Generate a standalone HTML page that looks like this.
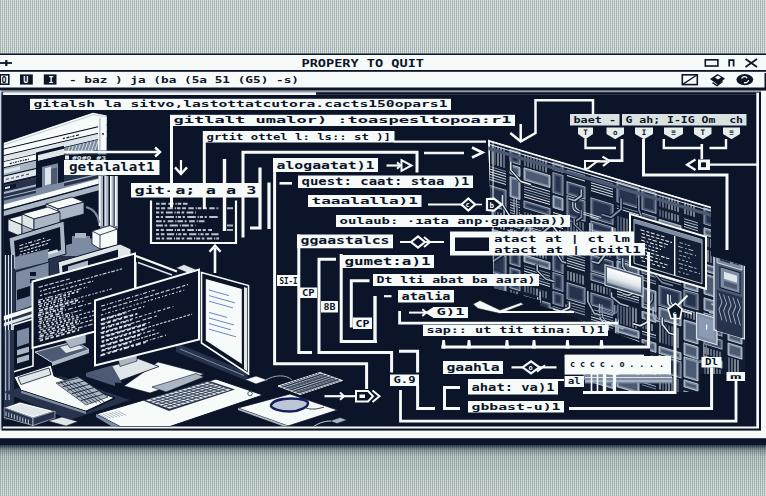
<!DOCTYPE html>
<html lang="en"><head><meta charset="utf-8"><title>PROPERY TO QUIT</title>
<style>
html,body{margin:0;padding:0;}
body{width:766px;height:496px;overflow:hidden;background:#c6d2d3;font-family:"Liberation Mono","DejaVu Sans Mono",monospace;}
.bg{position:absolute;left:0;top:0;width:766px;height:496px;
background:
 repeating-linear-gradient(90deg, rgba(105,128,124,.37) 0 1px, rgba(255,255,255,.25) 1px 2px),
 repeating-linear-gradient(0deg, rgba(120,135,140,.16) 0 1px, rgba(255,255,255,.10) 1px 2px),
 #cbd8d6;}
.shade{position:absolute;left:0;top:445px;width:766px;height:51px;background:linear-gradient(180deg, rgba(11,20,40,.8) 0, rgba(20,34,50,.38) 9%, rgba(40,60,64,.14) 22%, rgba(40,60,64,.05) 60%, rgba(40,60,64,0) 100%);}
svg{position:absolute;left:0;top:0;}
svg text{font-family:"DejaVu Sans Mono","Liberation Mono",monospace;}
</style></head><body>
<div class="bg"></div><div class="shade"></div>
<svg width="766" height="496" viewBox="0 0 766 496">
<rect x="0.00" y="53.50" width="766.00" height="391.50" fill="#0b1428" />
<rect x="0.00" y="55.00" width="766.00" height="15.00" fill="#f6faf9" />
<rect x="0.00" y="71.80" width="766.00" height="15.70" fill="#f6faf9" />
<rect x="764.50" y="73.00" width="1.50" height="15.00" fill="#0b1428" />
<rect x="0.00" y="90.60" width="766.00" height="347.60" fill="#f6faf9" />
<rect x="1.40" y="91.60" width="759.60" height="339.00" fill="#0b1428" />
<rect x="2.40" y="92.60" width="756.60" height="335.90" fill="#f6faf9" />
<rect x="1.40" y="94.80" width="754.90" height="331.70" fill="#0b1428" />
<rect x="1.40" y="92.60" width="1.20" height="335.90" fill="#0b1428" />
<rect x="3.60" y="92.40" width="312.40" height="2.40" fill="#f6faf9" />
<rect x="316.00" y="92.40" width="440.30" height="2.40" fill="#0b1428" />
<rect x="0.00" y="90.60" width="1.30" height="339.40" fill="#c9d6e2" />
<text x="301.5" y="67.2" font-size="10.8" font-weight="bold" fill="#0b1428" textLength="122.5" lengthAdjust="spacingAndGlyphs" font-family="Liberation Sans, sans-serif">PROPERY TO QUIT</text>
<polyline points="0.0,63.0 12.0,63.0" fill="none" stroke="#0b1428" stroke-width="1.8" stroke-linejoin="miter" />
<polyline points="6.3,60.0 6.3,66.0" fill="none" stroke="#0b1428" stroke-width="2.2" stroke-linejoin="miter" />
<rect x="705.3" y="59.8" width="12.6" height="6.2" fill="none" stroke="#0b1428" stroke-width="1.6"/>
<path d="M729.2 66.6v-6.4h4.4v6.4" fill="none" stroke="#0b1428" stroke-width="1.7"/>
<polyline points="745.5,59.0 757.0,67.0" fill="none" stroke="#0b1428" stroke-width="1.8" stroke-linejoin="miter" />
<polyline points="757.0,59.0 745.5,67.0" fill="none" stroke="#0b1428" stroke-width="1.8" stroke-linejoin="miter" />
<rect x="0.2" y="74.8" width="8.6" height="9.4" fill="#f6faf9" stroke="#0b1428" stroke-width="1.6"/>
<text x="1.6" y="82.8" font-size="8.5" font-weight="bold" fill="#0b1428">O</text>
<rect x="20.00" y="74.40" width="12.80" height="10.20" fill="#0b1428" />
<text x="23.2" y="82.8" font-size="8.5" font-weight="bold" fill="#f6faf9" font-family="Liberation Sans, sans-serif">U</text>
<rect x="43.80" y="74.40" width="12.70" height="10.20" fill="#0b1428" />
<text x="48.6" y="82.8" font-size="8.5" font-weight="bold" fill="#f6faf9" font-family="Liberation Sans, sans-serif">I</text>
<text x="69" y="82.6" font-size="8.6" font-weight="bold" fill="#0b1428" textLength="230" lengthAdjust="spacingAndGlyphs" xml:space="preserve">- baz ) ja (ba (5a 51 (G5) -s)</text>
<rect x="682.3" y="74.8" width="15" height="9.8" fill="#f6faf9" stroke="#0b1428" stroke-width="1.6"/>
<polyline points="682.3,84.6 697.3,74.8" fill="none" stroke="#0b1428" stroke-width="1.3" stroke-linejoin="miter" />
<polygon points="710.0,79.0 717.5,74.0 725.0,78.5 718.0,84.8" fill="#0b1428" />
<polygon points="715.0,77.4 718.0,75.6 721.0,77.6 718.0,79.4" fill="#f6faf9" />
<polyline points="712.5,82.6 717.0,85.6 722.5,81.5" fill="none" stroke="#0b1428" stroke-width="1.3" stroke-linejoin="miter" />
<ellipse cx="744.8" cy="79.6" rx="8.4" ry="5.6" fill="#0b1428"/>
<path d="M741.5 78.5c1.5-2.4 4.6-2.4 5.6-.4M744 82.6c2.2.6 4.4-.6 4.6-2.6" stroke="#f6faf9" stroke-width="1.3" fill="none"/>
<defs>
<clipPath id="cContent"><rect x="3.6" y="94.8" width="752.4" height="331.7"/></clipPath>
<clipPath id="cBoard"><polygon points="488,139.5 711,206.5 711,256 745,266 745,374 700,374 700,392 583,392 583,372 650,372 650,346 540,305 540,300 494,288"/></clipPath>
<clipPath id="cCab"><polygon points="3.6,143 93,113 106.5,115.6 106.5,176 118,176 118,262 134,257 134,300 3.6,345"/></clipPath>
</defs>
<g clip-path="url(#cContent)">
<g clip-path="url(#cCab)">
<rect x="0.0" y="100.0" width="140.0" height="156.0" fill="#7d8ca3" />
<rect x="0.0" y="256.0" width="140.0" height="94.0" fill="#27334d" />
</g>
<polygon points="3.6,143.0 93.0,112.8 106.5,115.5 106.5,124.5 3.6,148.8" fill="#f6faf9" />
<polyline points="3.6,145.2 94.0,114.6 106.5,117.2" fill="none" stroke="#aab6c4" stroke-width="0.7" />
<g clip-path="url(#cCab)"><g transform="matrix(1,-0.235,0,1,0,0.846)">
<rect x="0.0" y="148.5" width="140.0" height="1.2" fill="#0b1428" />
<rect x="0.0" y="149.7" width="140.0" height="5.5" fill="#f6faf9" />
<line x1="62.9" y1="152.6" x2="80.1" y2="152.6" stroke="#0b1428" stroke-width="1.2" stroke-dasharray="2 1.5 3 1 1 1"/>
<rect x="0.0" y="155.2" width="140.0" height="1.0" fill="#0b1428" />
<rect x="0.0" y="156.2" width="140.0" height="5.2" fill="#dfe6ea" />
<rect x="0.0" y="161.4" width="140.0" height="0.8" fill="#0b1428" />
<rect x="0.0" y="162.2" width="36.0" height="5.2" fill="#f6faf9" />
<line x1="9.8" y1="165.0" x2="29.5" y2="165.0" stroke="#0b1428" stroke-width="1.3" stroke-dasharray="2 1 1 1"/>
<rect x="0.0" y="167.4" width="36.0" height="1.0" fill="#0b1428" />
<rect x="0.0" y="168.4" width="36.0" height="7.1" fill="#aab6c4" />
<rect x="4.0" y="170.0" width="16.0" height="3.5" fill="#dfe6ea" />
<rect x="0.0" y="175.5" width="36.0" height="1.3" fill="#0b1428" />
<rect x="0.0" y="176.8" width="36.0" height="6.2" fill="#dfe6ea" />
<line x1="6.0" y1="180.0" x2="29.0" y2="180.0" stroke="#4c5a74" stroke-width="1.2" stroke-dasharray="3 2"/>
<rect x="0.0" y="183.0" width="36.0" height="2.0" fill="#0b1428" />
<rect x="0.0" y="185.0" width="36.0" height="7.0" fill="#27334d" />
<rect x="3.0" y="186.5" width="13.0" height="4.0" fill="#0b1428" />
<rect x="5.0" y="187.5" width="5.0" height="2.0" fill="#dfe6ea" />
<rect x="0.0" y="192.0" width="36.0" height="2.0" fill="#aab6c4" />
<rect x="0.0" y="194.0" width="36.0" height="6.5" fill="#27334d" />
<rect x="0.0" y="197.0" width="36.0" height="1.0" fill="#aab6c4" />
<rect x="36.0" y="160.0" width="28.0" height="36.0" fill="#0b1428" />
<rect x="38.0" y="163.0" width="26.0" height="6.0" fill="#dfe6ea" />
<rect x="38.0" y="169.0" width="26.0" height="1.0" fill="#0b1428" />
<rect x="42.0" y="176.0" width="16.0" height="21.0" fill="#7d8ca3" />
<rect x="45.0" y="178.0" width="6.0" height="17.0" fill="#dfe6ea" />
<rect x="51.0" y="180.0" width="6.0" height="16.0" fill="#4c5a74" />
<rect x="64.0" y="162.2" width="34.0" height="9.8" fill="#7d8ca3" />
<polyline points="66.0,172.0 69.6,162.2" fill="none" stroke="#dfe6ea" stroke-width="0.9" />
<polyline points="69.6,172.0 73.2,162.2" fill="none" stroke="#dfe6ea" stroke-width="0.9" />
<polyline points="73.2,172.0 76.8,162.2" fill="none" stroke="#dfe6ea" stroke-width="0.9" />
<polyline points="76.8,172.0 80.4,162.2" fill="none" stroke="#dfe6ea" stroke-width="0.9" />
<polyline points="80.4,172.0 84.0,162.2" fill="none" stroke="#dfe6ea" stroke-width="0.9" />
<polyline points="84.0,172.0 87.6,162.2" fill="none" stroke="#dfe6ea" stroke-width="0.9" />
<polyline points="87.6,172.0 91.2,162.2" fill="none" stroke="#dfe6ea" stroke-width="0.9" />
<polyline points="91.2,172.0 94.8,162.2" fill="none" stroke="#dfe6ea" stroke-width="0.9" />
<polyline points="94.8,172.0 98.4,162.2" fill="none" stroke="#dfe6ea" stroke-width="0.9" />
<rect x="64.0" y="172.0" width="34.0" height="28.5" fill="#27334d" />
<rect x="64.0" y="196.0" width="76.0" height="1.2" fill="#aab6c4" />
</g></g>
<g clip-path="url(#cCab)"><g transform="matrix(1,-0.27,0,1,0,0.972)">
<rect x="0.0" y="204.5" width="140.0" height="5.0" fill="#f6faf9" />
<rect x="0.0" y="209.5" width="140.0" height="1.5" fill="#0b1428" />
<rect x="0.0" y="211.0" width="140.0" height="5.0" fill="#aab6c4" />
<rect x="0.0" y="216.0" width="100.0" height="46.0" fill="#0b1428" />
</g></g>
<rect x="98.0" y="117.0" width="8.5" height="33.0" fill="#f6faf9" />
<rect x="99.3" y="118.0" width="1.2" height="32.0" fill="#aab6c4" />
<circle cx="103" cy="134" r="0.9" fill="#0b1428"/>
<rect x="98.5" y="176.0" width="19.5" height="50.0" fill="#aab6c4" />
<rect x="99.0" y="176.0" width="1.6" height="50.0" fill="#f6faf9" />
<rect x="103.0" y="176.0" width="1.6" height="50.0" fill="#0b1428" />
<rect x="104.5" y="176.0" width="1.6" height="50.0" fill="#dfe6ea" />
<rect x="108.5" y="176.0" width="1.6" height="50.0" fill="#0b1428" />
<rect x="110.0" y="176.0" width="1.6" height="50.0" fill="#f6faf9" />
<rect x="113.5" y="176.0" width="1.6" height="50.0" fill="#4c5a74" />
<rect x="115.0" y="176.0" width="1.6" height="50.0" fill="#f6faf9" />
<polygon points="46.0,204.0 72.0,197.0 84.0,202.0 58.0,209.0" fill="#f6faf9" stroke="#0b1428" stroke-width="0.8" />
<polygon points="46.0,204.0 58.0,209.0 58.0,221.0 46.0,216.0" fill="#dfe6ea" stroke="#0b1428" stroke-width="0.8" />
<polygon points="58.0,209.0 84.0,202.0 84.0,214.0 58.0,221.0" fill="#aab6c4" stroke="#0b1428" stroke-width="0.8" />
<polygon points="8.0,219.0 38.0,210.9 52.0,216.8 22.0,224.9" fill="#f6faf9" stroke="#0b1428" stroke-width="0.8" />
<polygon points="8.0,219.0 22.0,224.9 22.0,236.9 8.0,231.0" fill="#dfe6ea" stroke="#0b1428" stroke-width="0.8" />
<polygon points="22.0,224.9 52.0,216.8 52.0,228.8 22.0,236.9" fill="#aab6c4" stroke="#0b1428" stroke-width="0.8" />
<polygon points="22.0,214.0 48.0,207.0 60.0,212.0 34.0,219.0" fill="#f6faf9" stroke="#0b1428" stroke-width="0.8" />
<polygon points="22.0,214.0 34.0,219.0 34.0,230.0 22.0,225.0" fill="#dfe6ea" stroke="#0b1428" stroke-width="0.8" />
<polygon points="34.0,219.0 60.0,212.0 60.0,223.0 34.0,230.0" fill="#aab6c4" stroke="#0b1428" stroke-width="0.8" />
<path d="M86 207c8 2 12 8 13 16" stroke="#7d8ca3" stroke-width="2" fill="none"/>
<polygon points="92.0,231.0 110.0,225.5 117.5,229.0 117.5,246.0 100.0,249.0 92.0,244.0" fill="#f6faf9" stroke="#0b1428" stroke-width="0.8" />
<polyline points="100.0,235.0 100.0,249.0" fill="none" stroke="#0b1428" stroke-width="0.8" />
<polyline points="92.0,231.0 100.0,235.0 117.5,229.0" fill="none" stroke="#0b1428" stroke-width="0.8" />
<rect x="72.0" y="236.0" width="18.0" height="14.0" fill="#7d8ca3" />
<rect x="75.0" y="233.0" width="11.0" height="5.0" fill="#aab6c4" />
<polygon points="9.0,238.0 64.0,221.0 66.0,254.0 12.0,270.0" fill="#aab6c4" stroke="#0b1428" stroke-width="1" />
<polygon points="14.0,241.0 60.0,227.0 61.0,250.0 16.0,264.0" fill="#0b1428" />
<g transform="matrix(1,-0.3,0,1,0,4.5)">
<line x1="19.4" y1="247.0" x2="45.5" y2="247.0" stroke="#dfe6ea" stroke-width="1.1" stroke-dasharray="3.9 2.2 1.3 1.3"/>
<line x1="19.2" y1="250.2" x2="52.0" y2="250.2" stroke="#dfe6ea" stroke-width="1.1" stroke-dasharray="4.1 1.1 3.9 2.0"/>
<line x1="20.3" y1="253.4" x2="48.8" y2="253.4" stroke="#dfe6ea" stroke-width="1.1" stroke-dasharray="2.5 1.0 2.6 1.1"/>
<line x1="19.4" y1="256.6" x2="39.6" y2="256.6" stroke="#dfe6ea" stroke-width="1.1" stroke-dasharray="2.1 1.7 2.3 1.8"/>
<line x1="20.0" y1="259.8" x2="49.1" y2="259.8" stroke="#dfe6ea" stroke-width="1.1" stroke-dasharray="3.5 2.0 2.4 1.3"/>
<line x1="21.0" y1="263.0" x2="56.0" y2="263.0" stroke="#dfe6ea" stroke-width="1.1" stroke-dasharray="4.5 2.1 1.9 1.2"/>
</g>
<rect x="48.0" y="250.5" width="10.0" height="3.0" fill="#dfe6ea" transform="rotate(-16 53 252)"/>
<polygon points="58.0,262.0 120.0,244.0 131.0,249.0 131.0,262.0 60.0,283.0" fill="#dfe6ea" stroke="#0b1428" stroke-width="1" />
<polygon points="62.0,266.0 118.0,249.5 118.0,262.0 63.0,279.0" fill="#0b1428" />
<polygon points="68.0,266.5 88.0,260.5 88.0,269.0 68.0,275.0" fill="#aab6c4" />
<polygon points="15.0,257.0 48.0,249.0 48.0,262.0 15.0,270.0" fill="#7d8ca3" />
<polygon points="15.5,272.0 49.0,262.0 49.0,300.0 15.5,312.0" fill="#7d8ca3" stroke="#0b1428" stroke-width="0.8" />
<rect x="30.0" y="272.0" width="6.0" height="4.0" fill="#0b1428" />
<rect x="30.0" y="279.0" width="6.0" height="4.0" fill="#0b1428" />
<polygon points="17.0,290.0 30.0,286.0 30.0,296.0 17.0,300.0" fill="#0b1428" />
<rect x="3.6" y="255.0" width="10.4" height="90.0" fill="#27334d" />
<rect x="5.0" y="255.0" width="1.0" height="90.0" fill="#dfe6ea" />
<rect x="8.0" y="255.0" width="1.0" height="90.0" fill="#dfe6ea" />
<rect x="11.0" y="255.0" width="1.0" height="90.0" fill="#dfe6ea" />
<polygon points="3.6,316.0 32.0,307.0 32.0,311.0 3.6,320.5" fill="#f6faf9" />
<polygon points="3.6,323.0 32.0,314.0 32.0,317.0 3.6,326.5" fill="#dfe6ea" />
<polygon points="13.0,325.0 33.0,319.0 33.0,366.0 13.0,372.0" fill="#0b1428" stroke="#f6faf9" stroke-width="1.6" />
<polygon points="17.0,331.0 29.0,327.5 29.0,343.0 17.0,347.0" fill="#7d8ca3" />
<polygon points="17.0,350.0 29.0,346.5 29.0,352.0 17.0,355.5" fill="#aab6c4" />
<polygon points="17.0,358.0 29.0,354.5 29.0,360.0 17.0,363.5" fill="#aab6c4" />
<rect x="3.6" y="330.0" width="10.4" height="90.0" fill="#27334d" />
<rect x="5.0" y="330.0" width="1.2" height="70.0" fill="#aab6c4" />
<rect x="8.5" y="330.0" width="1.2" height="70.0" fill="#aab6c4" />
<polyline points="136.0,256.0 177.0,271.5" fill="none" stroke="#f6faf9" stroke-width="2.4" />
<polyline points="138.0,262.5 172.0,275.0" fill="none" stroke="#dfe6ea" stroke-width="1.6" />
<polyline points="136.0,262.0 136.0,300.0" fill="none" stroke="#dfe6ea" stroke-width="1.2" />
<polygon points="176.0,268.0 184.0,264.5 196.0,269.5 188.0,273.0" fill="#dfe6ea" stroke="#0b1428" stroke-width="0.6" />
<polygon points="176.0,343.0 247.5,372.0 247.5,381.0 176.0,352.0" fill="#27334d" />
<polyline points="180.0,349.0 244.0,375.5" fill="none" stroke="#7d8ca3" stroke-width="1" />
<polygon points="201.5,272.5 248.5,285.5 248.5,374.0 201.5,343.0" fill="#0b1428" stroke="#f6faf9" stroke-width="1.6" />
<polygon points="205.8,279.0 241.8,289.0 241.8,364.0 205.8,340.5" fill="#f6faf9" />
<polygon points="244.0,287.0 247.0,288.0 247.0,371.0 244.0,369.0" fill="#dfe6ea" />
<polyline points="209.0,290.0 229.0,295.6" fill="none" stroke="#6c86c4" stroke-width="1" />
<polyline points="209.0,295.6 235.0,302.9" fill="none" stroke="#6c86c4" stroke-width="1" />
<polyline points="209.0,301.2 233.0,307.9" fill="none" stroke="#6c86c4" stroke-width="1" />
<polyline points="209.0,312.4 227.0,317.4" fill="none" stroke="#6c86c4" stroke-width="1" />
<polyline points="209.0,318.0 234.0,325.0" fill="none" stroke="#6c86c4" stroke-width="1" />
<polyline points="209.0,323.6 231.0,329.8" fill="none" stroke="#6c86c4" stroke-width="1" />
<polyline points="209.0,329.2 236.0,336.8" fill="none" stroke="#6c86c4" stroke-width="1" />
<polygon points="35.0,352.0 76.0,341.0 89.0,349.5 52.0,362.5" fill="#4c5a74" stroke="#dfe6ea" stroke-width="0.9" />
<polygon points="52.0,362.5 89.0,349.5 89.0,353.0 52.0,366.0" fill="#aab6c4" />
<polygon points="60.0,347.0 76.0,343.0 84.0,348.0 66.0,353.0" fill="#dfe6ea" />
<polygon points="62.0,336.0 86.0,329.0 86.0,343.0 70.0,348.0" fill="#aab6c4" stroke="#0b1428" stroke-width="0.6" />
<polygon points="32.5,281.5 135.0,253.5 135.0,321.0 32.5,348.0" fill="#0b1428" stroke="#f6faf9" stroke-width="2" />
<g transform="matrix(1,-0.273,0,1,0,8.87)">
<line x1="38.6" y1="289.0" x2="70.7" y2="289.0" stroke="#c3ccd6" stroke-width="1.2" stroke-dasharray="4.3 1.6 3.5 1.4"/>
<line x1="39.9" y1="293.3" x2="122.1" y2="293.3" stroke="#c3ccd6" stroke-width="1.2" stroke-dasharray="2.0 1.3 3.7 1.5"/>
<line x1="40.0" y1="297.6" x2="93.2" y2="297.6" stroke="#c3ccd6" stroke-width="1.2" stroke-dasharray="2.2 1.9 3.3 1.3"/>
<line x1="38.2" y1="301.9" x2="87.2" y2="301.9" stroke="#c3ccd6" stroke-width="1.2" stroke-dasharray="4.9 2.1 1.4 1.2"/>
<line x1="38.2" y1="306.2" x2="69.7" y2="306.2" stroke="#c3ccd6" stroke-width="1.2" stroke-dasharray="4.4 1.3 2.7 1.4"/>
<line x1="38.4" y1="310.5" x2="113.1" y2="310.5" stroke="#c3ccd6" stroke-width="1.2" stroke-dasharray="2.4 2.0 1.3 1.4"/>
<line x1="38.4" y1="314.8" x2="83.4" y2="314.8" stroke="#c3ccd6" stroke-width="1.2" stroke-dasharray="4.9 2.2 1.9 1.9"/>
<line x1="38.4" y1="319.1" x2="91.4" y2="319.1" stroke="#c3ccd6" stroke-width="1.2" stroke-dasharray="4.6 2.0 1.3 2.0"/>
<line x1="38.4" y1="323.4" x2="82.7" y2="323.4" stroke="#c3ccd6" stroke-width="1.2" stroke-dasharray="4.3 1.5 1.9 1.1"/>
<line x1="38.2" y1="327.7" x2="103.3" y2="327.7" stroke="#c3ccd6" stroke-width="1.2" stroke-dasharray="2.7 1.9 2.1 1.5"/>
<line x1="39.9" y1="332.0" x2="98.7" y2="332.0" stroke="#c3ccd6" stroke-width="1.2" stroke-dasharray="3.7 2.3 1.5 1.2"/>
<line x1="39.8" y1="336.3" x2="120.1" y2="336.3" stroke="#c3ccd6" stroke-width="1.2" stroke-dasharray="2.7 1.3 3.2 1.9"/>
<line x1="38.4" y1="340.6" x2="127.2" y2="340.6" stroke="#c3ccd6" stroke-width="1.2" stroke-dasharray="4.6 1.9 2.3 1.1"/>
<line x1="38.1" y1="304.0" x2="79.3" y2="304.0" stroke="#d8dfe6" stroke-width="1.8" stroke-dasharray="2.7 2.1 1.8 1.8"/>
<line x1="39.2" y1="308.3" x2="66.4" y2="308.3" stroke="#d8dfe6" stroke-width="1.8" stroke-dasharray="2.5 2.1 1.2 1.2"/>
<line x1="39.1" y1="312.6" x2="78.0" y2="312.6" stroke="#d8dfe6" stroke-width="1.8" stroke-dasharray="3.8 1.4 3.8 1.2"/>
<line x1="38.0" y1="316.9" x2="64.7" y2="316.9" stroke="#d8dfe6" stroke-width="1.8" stroke-dasharray="3.3 1.1 1.5 1.4"/>
<line x1="39.1" y1="321.2" x2="62.9" y2="321.2" stroke="#d8dfe6" stroke-width="1.8" stroke-dasharray="3.1 2.3 3.9 1.7"/>
<line x1="39.4" y1="325.5" x2="72.7" y2="325.5" stroke="#d8dfe6" stroke-width="1.8" stroke-dasharray="2.4 1.1 1.1 1.9"/>
<line x1="39.4" y1="329.8" x2="80.0" y2="329.8" stroke="#d8dfe6" stroke-width="1.8" stroke-dasharray="2.1 2.0 2.4 1.7"/>
<line x1="38.6" y1="334.1" x2="80.0" y2="334.1" stroke="#d8dfe6" stroke-width="1.8" stroke-dasharray="2.2 1.8 3.2 1.9"/>
<line x1="39.5" y1="338.4" x2="75.3" y2="338.4" stroke="#d8dfe6" stroke-width="1.8" stroke-dasharray="4.4 2.4 2.1 1.7"/>
<line x1="39.8" y1="342.7" x2="79.1" y2="342.7" stroke="#d8dfe6" stroke-width="1.8" stroke-dasharray="3.3 2.2 3.6 1.6"/>
</g>
<polygon points="124.0,386.0 158.0,362.0 204.0,374.0 150.0,393.0" fill="#f6faf9" stroke="#0b1428" stroke-width="0.6" />
<polygon points="86.0,373.0 138.0,358.5 159.0,366.5 115.0,382.5" fill="#dfe6ea" stroke="#0b1428" stroke-width="0.8" />
<polygon points="86.0,373.0 112.0,365.6 122.0,383.0 115.0,382.5" fill="#4c5a74" />
<polygon points="86.0,373.0 115.0,382.5 115.0,386.0 86.0,376.5" fill="#4c5a74" />
<polygon points="116.0,352.0 137.0,346.0 137.0,361.0 120.0,366.5" fill="#aab6c4" stroke="#0b1428" stroke-width="0.6" />
<polygon points="95.0,300.5 199.0,269.5 199.0,339.5 95.0,365.5" fill="#0b1428" stroke="#f6faf9" stroke-width="2" />
<g transform="matrix(1,-0.3,0,1,0,28.5)">
<line x1="101.2" y1="308.0" x2="154.6" y2="308.0" stroke="#c3ccd6" stroke-width="1.2" stroke-dasharray="3.7 1.9 1.2 1.6"/>
<line x1="102.0" y1="312.4" x2="188.1" y2="312.4" stroke="#c3ccd6" stroke-width="1.2" stroke-dasharray="4.2 1.6 3.2 1.6"/>
<line x1="100.9" y1="316.8" x2="184.2" y2="316.8" stroke="#c3ccd6" stroke-width="1.2" stroke-dasharray="2.3 2.1 1.1 1.6"/>
<line x1="101.0" y1="321.2" x2="144.3" y2="321.2" stroke="#c3ccd6" stroke-width="1.2" stroke-dasharray="4.1 1.7 2.8 1.9"/>
<line x1="100.5" y1="325.6" x2="129.5" y2="325.6" stroke="#c3ccd6" stroke-width="1.2" stroke-dasharray="2.9 2.0 1.6 1.2"/>
<line x1="101.8" y1="330.0" x2="173.4" y2="330.0" stroke="#c3ccd6" stroke-width="1.2" stroke-dasharray="3.3 2.3 2.0 1.7"/>
<line x1="100.4" y1="334.4" x2="156.9" y2="334.4" stroke="#c3ccd6" stroke-width="1.2" stroke-dasharray="4.4 2.4 3.6 1.4"/>
<line x1="101.2" y1="338.8" x2="150.2" y2="338.8" stroke="#c3ccd6" stroke-width="1.2" stroke-dasharray="2.4 1.7 3.5 1.8"/>
<line x1="101.4" y1="343.2" x2="192.1" y2="343.2" stroke="#c3ccd6" stroke-width="1.2" stroke-dasharray="2.8 1.3 2.4 1.3"/>
<line x1="100.4" y1="347.6" x2="155.9" y2="347.6" stroke="#c3ccd6" stroke-width="1.2" stroke-dasharray="3.9 1.7 1.9 1.8"/>
<line x1="102.0" y1="352.0" x2="159.9" y2="352.0" stroke="#c3ccd6" stroke-width="1.2" stroke-dasharray="2.2 1.0 3.6 1.0"/>
<line x1="101.4" y1="356.4" x2="167.2" y2="356.4" stroke="#c3ccd6" stroke-width="1.2" stroke-dasharray="2.9 2.2 1.1 1.1"/>
<line x1="100.9" y1="322.0" x2="126.5" y2="322.0" stroke="#d8dfe6" stroke-width="1.9" stroke-dasharray="4.5 1.4 1.4 1.0"/>
<line x1="101.3" y1="326.4" x2="137.4" y2="326.4" stroke="#d8dfe6" stroke-width="1.9" stroke-dasharray="3.9 2.0 3.4 2.0"/>
<line x1="101.4" y1="330.8" x2="131.4" y2="330.8" stroke="#d8dfe6" stroke-width="1.9" stroke-dasharray="3.4 1.3 1.0 1.5"/>
<line x1="101.4" y1="335.2" x2="130.9" y2="335.2" stroke="#d8dfe6" stroke-width="1.9" stroke-dasharray="2.8 1.5 3.1 1.5"/>
<line x1="101.2" y1="339.6" x2="145.1" y2="339.6" stroke="#d8dfe6" stroke-width="1.9" stroke-dasharray="3.2 2.2 3.7 1.1"/>
<line x1="101.9" y1="344.0" x2="144.9" y2="344.0" stroke="#d8dfe6" stroke-width="1.9" stroke-dasharray="2.4 1.7 2.9 1.9"/>
<line x1="100.8" y1="348.4" x2="140.0" y2="348.4" stroke="#d8dfe6" stroke-width="1.9" stroke-dasharray="4.6 2.2 3.8 1.5"/>
<line x1="101.3" y1="352.8" x2="131.4" y2="352.8" stroke="#d8dfe6" stroke-width="1.9" stroke-dasharray="4.2 2.2 2.9 1.7"/>
<line x1="100.4" y1="357.2" x2="147.9" y2="357.2" stroke="#d8dfe6" stroke-width="1.9" stroke-dasharray="4.9 2.5 2.6 1.8"/>
</g>
<polygon points="3.6,392.0 60.0,376.0 130.0,400.0 70.0,420.0" fill="#27334d" />
<polygon points="14.0,377.0 51.0,365.0 54.0,376.0 115.0,398.0 86.0,411.5 21.0,390.5" fill="#f6faf9" stroke="#0b1428" stroke-width="1" />
<polygon points="18.0,377.5 49.0,368.0 51.0,374.5 21.0,384.5" fill="#dfe6ea" stroke="#0b1428" stroke-width="0.8" />
<polygon points="56.0,383.0 78.0,376.5 108.0,397.0 86.0,405.0" fill="#aab6c4" stroke="#0b1428" stroke-width="0.6" />
<polyline points="58.0,383.5 80.0,377.5" fill="none" stroke="#0b1428" stroke-width="0.8" />
<polyline points="62.6,386.9 84.6,380.9" fill="none" stroke="#0b1428" stroke-width="0.8" />
<polyline points="67.2,390.3 89.2,384.3" fill="none" stroke="#0b1428" stroke-width="0.8" />
<polyline points="71.8,393.7 93.8,387.7" fill="none" stroke="#0b1428" stroke-width="0.8" />
<polyline points="76.4,397.1 98.4,391.1" fill="none" stroke="#0b1428" stroke-width="0.8" />
<polyline points="81.0,400.5 103.0,394.5" fill="none" stroke="#0b1428" stroke-width="0.8" />
<polyline points="60.0,382.0 88.0,403.0" fill="none" stroke="#0b1428" stroke-width="0.7" />
<polyline points="64.4,382.0 92.4,403.0" fill="none" stroke="#0b1428" stroke-width="0.7" />
<polyline points="68.8,382.0 96.8,403.0" fill="none" stroke="#0b1428" stroke-width="0.7" />
<polyline points="73.2,382.0 101.2,403.0" fill="none" stroke="#0b1428" stroke-width="0.7" />
<polyline points="77.6,382.0 105.6,403.0" fill="none" stroke="#0b1428" stroke-width="0.7" />
<polyline points="21.0,390.5 86.0,411.5 115.0,398.0" fill="none" stroke="#0b1428" stroke-width="1.6" />
<polygon points="21.0,390.5 86.0,411.5 86.0,414.0 21.0,393.0" fill="#7d8ca3" />
<polygon points="4.0,407.5 20.0,402.0 55.0,411.0 33.0,418.0" fill="#f6faf9" stroke="#0b1428" stroke-width="0.8" />
<polygon points="7.0,408.0 20.0,404.0 50.0,411.4 33.0,416.0" fill="#dfe6ea" />
<polygon points="4.0,407.5 33.0,418.0 33.0,425.5 4.0,417.5" fill="#27334d" stroke="#dfe6ea" stroke-width="0.6" />
<polygon points="33.0,418.0 55.0,411.0 55.0,418.0 33.0,425.5" fill="#27334d" stroke="#dfe6ea" stroke-width="0.6" />
<polyline points="6.0,411.5 6.0,416.0" fill="none" stroke="#dfe6ea" stroke-width="0.8" />
<polyline points="8.8,412.5 8.8,417.0" fill="none" stroke="#dfe6ea" stroke-width="0.8" />
<polyline points="11.6,413.5 11.6,418.0" fill="none" stroke="#dfe6ea" stroke-width="0.8" />
<polyline points="14.4,414.5 14.4,419.0" fill="none" stroke="#dfe6ea" stroke-width="0.8" />
<polyline points="17.2,415.5 17.2,420.0" fill="none" stroke="#dfe6ea" stroke-width="0.8" />
<polyline points="20.0,416.5 20.0,421.0" fill="none" stroke="#dfe6ea" stroke-width="0.8" />
<polyline points="22.8,417.5 22.8,422.0" fill="none" stroke="#dfe6ea" stroke-width="0.8" />
<polyline points="25.6,418.5 25.6,423.0" fill="none" stroke="#dfe6ea" stroke-width="0.8" />
<polyline points="28.4,419.5 28.4,424.0" fill="none" stroke="#dfe6ea" stroke-width="0.8" />
<polygon points="48.0,421.0 62.0,417.0 78.0,421.5 66.0,426.0" fill="#dfe6ea" stroke="#0b1428" stroke-width="0.6" />
<polygon points="96.0,414.0 216.0,379.0 263.0,395.0 170.0,426.5 120.0,426.5" fill="#f6faf9" stroke="#0b1428" stroke-width="1" />
<polygon points="96.0,414.0 120.0,426.5 112.0,426.5 96.0,417.0" fill="#7d8ca3" />
<polyline points="100.0,414.5 108.0,419.0" fill="none" stroke="#7d8ca3" stroke-width="0.6" />
<polyline points="103.0,413.9 111.0,418.4" fill="none" stroke="#7d8ca3" stroke-width="0.6" />
<polyline points="106.0,413.3 114.0,417.8" fill="none" stroke="#7d8ca3" stroke-width="0.6" />
<polyline points="109.0,412.7 117.0,417.2" fill="none" stroke="#7d8ca3" stroke-width="0.6" />
<polyline points="112.0,412.1 120.0,416.6" fill="none" stroke="#7d8ca3" stroke-width="0.6" />
<polyline points="115.0,411.5 123.0,416.0" fill="none" stroke="#7d8ca3" stroke-width="0.6" />
<polyline points="118.0,410.9 126.0,415.4" fill="none" stroke="#7d8ca3" stroke-width="0.6" />
<polygon points="152.0,387.0 196.0,373.5 204.0,377.0 166.0,392.0" fill="#aab6c4" stroke="#0b1428" stroke-width="0.6" />
<polygon points="143.0,400.5 208.0,380.5 235.0,389.5 169.0,411.0" fill="#27334d" />
<polygon points="146.0,400.3 207.5,382.0 231.0,389.7 169.5,408.7" fill="#dfe6ea" />
<polyline points="149.9,401.7 211.4,383.3" fill="none" stroke="#27334d" stroke-width="0.9" />
<polyline points="153.8,403.1 215.3,384.6" fill="none" stroke="#27334d" stroke-width="0.9" />
<polyline points="157.8,404.5 219.2,385.9" fill="none" stroke="#27334d" stroke-width="0.9" />
<polyline points="161.7,405.9 223.2,387.1" fill="none" stroke="#27334d" stroke-width="0.9" />
<polyline points="165.6,407.3 227.1,388.4" fill="none" stroke="#27334d" stroke-width="0.9" />
<polyline points="150.4,399.0 173.9,407.3" fill="none" stroke="#27334d" stroke-width="0.8" />
<polyline points="154.8,397.7 178.3,406.0" fill="none" stroke="#27334d" stroke-width="0.8" />
<polyline points="159.2,396.4 182.7,404.6" fill="none" stroke="#27334d" stroke-width="0.8" />
<polyline points="163.6,395.1 187.1,403.3" fill="none" stroke="#27334d" stroke-width="0.8" />
<polyline points="168.0,393.8 191.5,401.9" fill="none" stroke="#27334d" stroke-width="0.8" />
<polyline points="172.4,392.5 195.9,400.6" fill="none" stroke="#27334d" stroke-width="0.8" />
<polyline points="176.8,391.2 200.2,399.2" fill="none" stroke="#27334d" stroke-width="0.8" />
<polyline points="181.1,389.8 204.6,397.8" fill="none" stroke="#27334d" stroke-width="0.8" />
<polyline points="185.5,388.5 209.0,396.5" fill="none" stroke="#27334d" stroke-width="0.8" />
<polyline points="189.9,387.2 213.4,395.1" fill="none" stroke="#27334d" stroke-width="0.8" />
<polyline points="194.3,385.9 217.8,393.8" fill="none" stroke="#27334d" stroke-width="0.8" />
<polyline points="198.7,384.6 222.2,392.4" fill="none" stroke="#27334d" stroke-width="0.8" />
<polyline points="203.1,383.3 226.6,391.1" fill="none" stroke="#27334d" stroke-width="0.8" />
<circle cx="250" cy="393.6" r="2.2" fill="none" stroke="#0b1428" stroke-width="0.7"/>
<polygon points="245.0,379.5 256.0,376.0 267.5,380.0 256.0,384.0" fill="#f6faf9" stroke="#0b1428" stroke-width="0.6" />
<path d="M266 380c8-5 20-6 26 0" stroke="#aab6c4" stroke-width="0.9" fill="none"/>
<polygon points="278.0,386.0 320.0,372.5 342.5,380.5 300.0,394.5" fill="#aab6c4" stroke="#f6faf9" stroke-width="0.9" />
<polyline points="281.7,387.4 323.8,373.8" fill="none" stroke="#0b1428" stroke-width="0.7" />
<polyline points="285.3,388.8 327.5,375.2" fill="none" stroke="#0b1428" stroke-width="0.7" />
<polyline points="289.0,390.2 331.2,376.5" fill="none" stroke="#0b1428" stroke-width="0.7" />
<polyline points="292.7,391.7 335.0,377.8" fill="none" stroke="#0b1428" stroke-width="0.7" />
<polyline points="296.3,393.1 338.8,379.2" fill="none" stroke="#0b1428" stroke-width="0.7" />
<polyline points="281.0,385.0 303.0,393.5" fill="none" stroke="#0b1428" stroke-width="0.6" />
<polyline points="284.0,384.1 306.1,392.5" fill="none" stroke="#0b1428" stroke-width="0.6" />
<polyline points="287.0,383.1 309.1,391.5" fill="none" stroke="#0b1428" stroke-width="0.6" />
<polyline points="290.0,382.1 312.1,390.5" fill="none" stroke="#0b1428" stroke-width="0.6" />
<polyline points="293.0,381.2 315.2,389.5" fill="none" stroke="#0b1428" stroke-width="0.6" />
<polyline points="296.0,380.2 318.2,388.5" fill="none" stroke="#0b1428" stroke-width="0.6" />
<polyline points="299.0,379.2 321.2,387.5" fill="none" stroke="#0b1428" stroke-width="0.6" />
<polyline points="302.0,378.3 324.3,386.5" fill="none" stroke="#0b1428" stroke-width="0.6" />
<polyline points="305.0,377.3 327.3,385.5" fill="none" stroke="#0b1428" stroke-width="0.6" />
<polyline points="308.0,376.4 330.4,384.5" fill="none" stroke="#0b1428" stroke-width="0.6" />
<polyline points="311.0,375.4 333.4,383.5" fill="none" stroke="#0b1428" stroke-width="0.6" />
<polyline points="314.0,374.4 336.4,382.5" fill="none" stroke="#0b1428" stroke-width="0.6" />
<polyline points="317.0,373.5 339.5,381.5" fill="none" stroke="#0b1428" stroke-width="0.6" />
<polygon points="238.0,408.0 290.0,394.0 337.5,410.0 288.0,426.0" fill="#f6faf9" stroke="#0b1428" stroke-width="0.8" />
<polygon points="238.0,408.0 288.0,426.0 284.0,426.5 238.0,410.0" fill="#aab6c4" />
<path d="M271 405c2-4 10-6.5 20-6.5s17 2 17 5-8 8-18 8-20-3-19-6.5z" fill="#bcc6d6" stroke="#141e5a" stroke-width="2.4"/>
<path d="M306 408c6 2 12 1 18-1" stroke="#0b1428" stroke-width="0.8" fill="none"/>
<polygon points="330.0,421.0 340.0,417.5 347.0,420.0 337.0,423.5" fill="#aab6c4" stroke="#0b1428" stroke-width="0.5" />
<path d="M331 421c-8 0-14 3-18 6" stroke="#dfe6ea" stroke-width="0.9" fill="none"/>
<g clip-path="url(#cBoard)"><g transform="matrix(1,0.3,0,1,0,-146.400)">
<rect x="480.0" y="120.0" width="280.0" height="240.0" fill="#121c33" />
<polyline points="489.0,143.0 489.0,163.0" fill="none" stroke="#dfe6ea" stroke-width="1.0" />
<polyline points="492.0,143.0 492.0,163.0" fill="none" stroke="#7d8ca3" stroke-width="1.0" />
<polyline points="495.0,143.0 495.0,163.0" fill="none" stroke="#7d8ca3" stroke-width="1.0" />
<polyline points="498.0,143.0 498.0,163.0" fill="none" stroke="#dfe6ea" stroke-width="1.0" />
<polyline points="501.0,143.0 501.0,163.0" fill="none" stroke="#dfe6ea" stroke-width="1.0" />
<polyline points="504.0,143.0 504.0,163.0" fill="none" stroke="#aab6c4" stroke-width="1.0" />
<polyline points="488.0,166.0 506.0,166.0" fill="none" stroke="#7d8ca3" stroke-width="1.0" />
<polyline points="488.0,168.6 506.0,168.6" fill="none" stroke="#dfe6ea" stroke-width="1.0" />
<polyline points="488.0,171.2 506.0,171.2" fill="none" stroke="#dfe6ea" stroke-width="1.0" />
<polyline points="488.0,173.8 506.0,173.8" fill="none" stroke="#dfe6ea" stroke-width="1.0" />
<polyline points="488.0,176.4 506.0,176.4" fill="none" stroke="#aab6c4" stroke-width="1.0" />
<polyline points="488.0,179.0 506.0,179.0" fill="none" stroke="#dfe6ea" stroke-width="1.0" />
<rect x="488.0" y="185.0" width="18.0" height="20.0" fill="#4c5a74" stroke="#aab6c4" stroke-width="0.9"/>
<rect x="490.5" y="187.2" width="13.0" height="15.6" fill="#27334d" />
<polyline points="489.0,209.0 489.0,225.0" fill="none" stroke="#dfe6ea" stroke-width="1.0" />
<polyline points="492.0,209.0 492.0,225.0" fill="none" stroke="#aab6c4" stroke-width="1.0" />
<polyline points="495.0,209.0 495.0,225.0" fill="none" stroke="#7d8ca3" stroke-width="1.0" />
<polyline points="498.0,209.0 498.0,225.0" fill="none" stroke="#aab6c4" stroke-width="1.0" />
<polyline points="501.0,209.0 501.0,225.0" fill="none" stroke="#dfe6ea" stroke-width="1.0" />
<polyline points="504.0,209.0 504.0,225.0" fill="none" stroke="#dfe6ea" stroke-width="1.0" />
<rect x="488.0" y="228.0" width="18.0" height="20.0" fill="#7d8ca3" stroke="#dfe6ea" stroke-width="0.7"/>
<rect x="490.0" y="230.0" width="14.0" height="16.0" fill="#4c5a74" />
<rect x="488.0" y="251.0" width="18.0" height="20.0" fill="#4c5a74" stroke="#aab6c4" stroke-width="0.9"/>
<rect x="490.5" y="253.2" width="13.0" height="15.6" fill="#27334d" />
<rect x="488.0" y="273.0" width="18.0" height="20.0" fill="#7d8ca3" stroke="#dfe6ea" stroke-width="0.7"/>
<rect x="490.0" y="275.0" width="14.0" height="16.0" fill="#4c5a74" />
<polyline points="488.0,298.0 506.0,298.0" fill="none" stroke="#7d8ca3" stroke-width="1.0" />
<polyline points="488.0,300.6 506.0,300.6" fill="none" stroke="#dfe6ea" stroke-width="1.0" />
<rect x="488.0" y="308.0" width="18.0" height="7.0" fill="#7d8ca3" stroke="#dfe6ea" stroke-width="0.7"/>
<rect x="490.0" y="310.0" width="14.0" height="3.0" fill="#4c5a74" />
<rect x="488.0" y="319.0" width="18.0" height="9.0" fill="#4c5a74" stroke="#aab6c4" stroke-width="0.9"/>
<rect x="490.5" y="321.2" width="13.0" height="4.6" fill="#27334d" />
<rect x="488.0" y="332.0" width="18.0" height="16.0" fill="#7d8ca3" stroke="#dfe6ea" stroke-width="0.7"/>
<rect x="490.0" y="334.0" width="14.0" height="12.0" fill="#4c5a74" />
<rect x="510.0" y="143.0" width="10.0" height="12.0" fill="#4c5a74" stroke="#aab6c4" stroke-width="0.9"/>
<rect x="512.5" y="145.2" width="5.0" height="7.6" fill="#27334d" />
<rect x="510.0" y="158.0" width="10.0" height="9.0" fill="#7d8ca3" stroke="#dfe6ea" stroke-width="0.7"/>
<rect x="512.0" y="160.0" width="6.0" height="5.0" fill="#4c5a74" />
<rect x="510.0" y="170.0" width="10.0" height="20.0" fill="#7d8ca3" stroke="#dfe6ea" stroke-width="0.7"/>
<rect x="512.0" y="172.0" width="6.0" height="16.0" fill="#4c5a74" />
<polyline points="510.0,193.0 520.0,193.0" fill="none" stroke="#7d8ca3" stroke-width="1.0" />
<polyline points="510.0,195.6 520.0,195.6" fill="none" stroke="#aab6c4" stroke-width="1.0" />
<polyline points="510.0,198.2 520.0,198.2" fill="none" stroke="#dfe6ea" stroke-width="1.0" />
<polyline points="510.0,200.8 520.0,200.8" fill="none" stroke="#aab6c4" stroke-width="1.0" />
<polyline points="510.0,203.4 520.0,203.4" fill="none" stroke="#aab6c4" stroke-width="1.0" />
<polyline points="510.0,206.0 520.0,206.0" fill="none" stroke="#aab6c4" stroke-width="1.0" />
<rect x="510.0" y="210.0" width="10.0" height="9.0" fill="#4c5a74" stroke="#aab6c4" stroke-width="0.9"/>
<rect x="512.5" y="212.2" width="5.0" height="4.6" fill="#27334d" />
<polyline points="510.0,223.0 520.0,223.0" fill="none" stroke="#aab6c4" stroke-width="1.0" />
<polyline points="510.0,225.6 520.0,225.6" fill="none" stroke="#dfe6ea" stroke-width="1.0" />
<polyline points="510.0,228.2 520.0,228.2" fill="none" stroke="#7d8ca3" stroke-width="1.0" />
<polyline points="510.0,230.8 520.0,230.8" fill="none" stroke="#aab6c4" stroke-width="1.0" />
<rect x="510.0" y="237.0" width="10.0" height="20.0" fill="#4c5a74" stroke="#aab6c4" stroke-width="0.9"/>
<rect x="512.5" y="239.2" width="5.0" height="15.6" fill="#27334d" />
<rect x="510.0" y="261.0" width="10.0" height="20.0" fill="#4c5a74" stroke="#aab6c4" stroke-width="0.9"/>
<rect x="512.5" y="263.2" width="5.0" height="15.6" fill="#27334d" />
<polyline points="511.0,283.0 511.0,303.0" fill="none" stroke="#aab6c4" stroke-width="1.0" />
<polyline points="514.0,283.0 514.0,303.0" fill="none" stroke="#7d8ca3" stroke-width="1.0" />
<polyline points="517.0,283.0 517.0,303.0" fill="none" stroke="#dfe6ea" stroke-width="1.0" />
<polyline points="510.0,307.0 520.0,307.0" fill="none" stroke="#dfe6ea" stroke-width="1.0" />
<polyline points="510.0,309.6 520.0,309.6" fill="none" stroke="#aab6c4" stroke-width="1.0" />
<polyline points="510.0,312.2 520.0,312.2" fill="none" stroke="#dfe6ea" stroke-width="1.0" />
<polyline points="510.0,314.8 520.0,314.8" fill="none" stroke="#dfe6ea" stroke-width="1.0" />
<polyline points="510.0,317.4 520.0,317.4" fill="none" stroke="#dfe6ea" stroke-width="1.0" />
<polyline points="510.0,320.0 520.0,320.0" fill="none" stroke="#aab6c4" stroke-width="1.0" />
<polyline points="510.0,322.6 520.0,322.6" fill="none" stroke="#dfe6ea" stroke-width="1.0" />
<polyline points="510.0,329.0 520.0,329.0" fill="none" stroke="#aab6c4" stroke-width="1.0" />
<polyline points="510.0,331.6 520.0,331.6" fill="none" stroke="#aab6c4" stroke-width="1.0" />
<polyline points="510.0,334.2 520.0,334.2" fill="none" stroke="#dfe6ea" stroke-width="1.0" />
<polyline points="510.0,336.8 520.0,336.8" fill="none" stroke="#dfe6ea" stroke-width="1.0" />
<polyline points="510.0,339.4 520.0,339.4" fill="none" stroke="#7d8ca3" stroke-width="1.0" />
<polyline points="510.0,342.0 520.0,342.0" fill="none" stroke="#aab6c4" stroke-width="1.0" />
<polyline points="510.0,344.6 520.0,344.6" fill="none" stroke="#7d8ca3" stroke-width="1.0" />
<polyline points="525.0,143.0 525.0,155.0" fill="none" stroke="#aab6c4" stroke-width="1.0" />
<polyline points="528.0,143.0 528.0,155.0" fill="none" stroke="#aab6c4" stroke-width="1.0" />
<polyline points="531.0,143.0 531.0,155.0" fill="none" stroke="#aab6c4" stroke-width="1.0" />
<polyline points="534.0,143.0 534.0,155.0" fill="none" stroke="#aab6c4" stroke-width="1.0" />
<polyline points="537.0,143.0 537.0,155.0" fill="none" stroke="#aab6c4" stroke-width="1.0" />
<polyline points="540.0,143.0 540.0,155.0" fill="none" stroke="#aab6c4" stroke-width="1.0" />
<polyline points="543.0,143.0 543.0,155.0" fill="none" stroke="#aab6c4" stroke-width="1.0" />
<polyline points="546.0,143.0 546.0,155.0" fill="none" stroke="#dfe6ea" stroke-width="1.0" />
<rect x="524.0" y="157.0" width="26.0" height="12.0" fill="#7d8ca3" stroke="#dfe6ea" stroke-width="0.7"/>
<rect x="526.0" y="159.0" width="22.0" height="8.0" fill="#4c5a74" />
<polyline points="524.0,173.0 550.0,173.0" fill="none" stroke="#dfe6ea" stroke-width="1.0" />
<polyline points="524.0,175.6 550.0,175.6" fill="none" stroke="#aab6c4" stroke-width="1.0" />
<polyline points="524.0,178.2 550.0,178.2" fill="none" stroke="#aab6c4" stroke-width="1.0" />
<polyline points="524.0,180.8 550.0,180.8" fill="none" stroke="#7d8ca3" stroke-width="1.0" />
<polyline points="524.0,183.4 550.0,183.4" fill="none" stroke="#dfe6ea" stroke-width="1.0" />
<polyline points="524.0,186.0 550.0,186.0" fill="none" stroke="#dfe6ea" stroke-width="1.0" />
<rect x="524.0" y="190.0" width="26.0" height="7.0" fill="#4c5a74" stroke="#aab6c4" stroke-width="0.9"/>
<rect x="526.5" y="192.2" width="21.0" height="2.6" fill="#27334d" />
<polyline points="525.0,201.0 525.0,213.0" fill="none" stroke="#7d8ca3" stroke-width="1.0" />
<polyline points="528.0,201.0 528.0,213.0" fill="none" stroke="#aab6c4" stroke-width="1.0" />
<polyline points="531.0,201.0 531.0,213.0" fill="none" stroke="#dfe6ea" stroke-width="1.0" />
<polyline points="534.0,201.0 534.0,213.0" fill="none" stroke="#dfe6ea" stroke-width="1.0" />
<polyline points="537.0,201.0 537.0,213.0" fill="none" stroke="#dfe6ea" stroke-width="1.0" />
<polyline points="540.0,201.0 540.0,213.0" fill="none" stroke="#7d8ca3" stroke-width="1.0" />
<polyline points="543.0,201.0 543.0,213.0" fill="none" stroke="#dfe6ea" stroke-width="1.0" />
<polyline points="546.0,201.0 546.0,213.0" fill="none" stroke="#dfe6ea" stroke-width="1.0" />
<rect x="524.0" y="215.0" width="26.0" height="7.0" fill="#7d8ca3" stroke="#dfe6ea" stroke-width="0.7"/>
<rect x="526.0" y="217.0" width="22.0" height="3.0" fill="#4c5a74" />
<polyline points="525.0,224.0 525.0,231.0" fill="none" stroke="#dfe6ea" stroke-width="1.0" />
<polyline points="528.0,224.0 528.0,231.0" fill="none" stroke="#dfe6ea" stroke-width="1.0" />
<polyline points="531.0,224.0 531.0,231.0" fill="none" stroke="#dfe6ea" stroke-width="1.0" />
<polyline points="534.0,224.0 534.0,231.0" fill="none" stroke="#7d8ca3" stroke-width="1.0" />
<polyline points="537.0,224.0 537.0,231.0" fill="none" stroke="#aab6c4" stroke-width="1.0" />
<polyline points="540.0,224.0 540.0,231.0" fill="none" stroke="#aab6c4" stroke-width="1.0" />
<polyline points="543.0,224.0 543.0,231.0" fill="none" stroke="#aab6c4" stroke-width="1.0" />
<polyline points="546.0,224.0 546.0,231.0" fill="none" stroke="#aab6c4" stroke-width="1.0" />
<polyline points="525.0,233.0 525.0,242.0" fill="none" stroke="#7d8ca3" stroke-width="1.0" />
<polyline points="528.0,233.0 528.0,242.0" fill="none" stroke="#dfe6ea" stroke-width="1.0" />
<polyline points="531.0,233.0 531.0,242.0" fill="none" stroke="#aab6c4" stroke-width="1.0" />
<polyline points="534.0,233.0 534.0,242.0" fill="none" stroke="#dfe6ea" stroke-width="1.0" />
<polyline points="537.0,233.0 537.0,242.0" fill="none" stroke="#aab6c4" stroke-width="1.0" />
<polyline points="540.0,233.0 540.0,242.0" fill="none" stroke="#aab6c4" stroke-width="1.0" />
<polyline points="543.0,233.0 543.0,242.0" fill="none" stroke="#dfe6ea" stroke-width="1.0" />
<polyline points="546.0,233.0 546.0,242.0" fill="none" stroke="#7d8ca3" stroke-width="1.0" />
<rect x="524.0" y="244.0" width="26.0" height="7.0" fill="#7d8ca3" stroke="#dfe6ea" stroke-width="0.7"/>
<rect x="526.0" y="246.0" width="22.0" height="3.0" fill="#4c5a74" />
<polyline points="524.0,255.0 550.0,255.0" fill="none" stroke="#7d8ca3" stroke-width="1.0" />
<polyline points="524.0,257.6 550.0,257.6" fill="none" stroke="#aab6c4" stroke-width="1.0" />
<polyline points="524.0,260.2 550.0,260.2" fill="none" stroke="#dfe6ea" stroke-width="1.0" />
<polyline points="524.0,262.8 550.0,262.8" fill="none" stroke="#7d8ca3" stroke-width="1.0" />
<polyline points="524.0,265.4 550.0,265.4" fill="none" stroke="#aab6c4" stroke-width="1.0" />
<polyline points="524.0,268.0 550.0,268.0" fill="none" stroke="#dfe6ea" stroke-width="1.0" />
<polyline points="525.0,274.0 525.0,281.0" fill="none" stroke="#aab6c4" stroke-width="1.0" />
<polyline points="528.0,274.0 528.0,281.0" fill="none" stroke="#7d8ca3" stroke-width="1.0" />
<polyline points="531.0,274.0 531.0,281.0" fill="none" stroke="#7d8ca3" stroke-width="1.0" />
<polyline points="534.0,274.0 534.0,281.0" fill="none" stroke="#7d8ca3" stroke-width="1.0" />
<polyline points="537.0,274.0 537.0,281.0" fill="none" stroke="#dfe6ea" stroke-width="1.0" />
<polyline points="540.0,274.0 540.0,281.0" fill="none" stroke="#7d8ca3" stroke-width="1.0" />
<polyline points="543.0,274.0 543.0,281.0" fill="none" stroke="#7d8ca3" stroke-width="1.0" />
<polyline points="546.0,274.0 546.0,281.0" fill="none" stroke="#aab6c4" stroke-width="1.0" />
<rect x="524.0" y="285.0" width="26.0" height="9.0" fill="#4c5a74" stroke="#aab6c4" stroke-width="0.9"/>
<rect x="526.5" y="287.2" width="21.0" height="4.6" fill="#27334d" />
<polyline points="525.0,296.0 525.0,308.0" fill="none" stroke="#dfe6ea" stroke-width="1.0" />
<polyline points="528.0,296.0 528.0,308.0" fill="none" stroke="#dfe6ea" stroke-width="1.0" />
<polyline points="531.0,296.0 531.0,308.0" fill="none" stroke="#7d8ca3" stroke-width="1.0" />
<polyline points="534.0,296.0 534.0,308.0" fill="none" stroke="#dfe6ea" stroke-width="1.0" />
<polyline points="537.0,296.0 537.0,308.0" fill="none" stroke="#dfe6ea" stroke-width="1.0" />
<polyline points="540.0,296.0 540.0,308.0" fill="none" stroke="#aab6c4" stroke-width="1.0" />
<polyline points="543.0,296.0 543.0,308.0" fill="none" stroke="#dfe6ea" stroke-width="1.0" />
<polyline points="546.0,296.0 546.0,308.0" fill="none" stroke="#dfe6ea" stroke-width="1.0" />
<rect x="524.0" y="311.0" width="26.0" height="12.0" fill="#4c5a74" stroke="#aab6c4" stroke-width="0.9"/>
<rect x="526.5" y="313.2" width="21.0" height="7.6" fill="#27334d" />
<polyline points="525.0,325.0 525.0,334.0" fill="none" stroke="#7d8ca3" stroke-width="1.0" />
<polyline points="528.0,325.0 528.0,334.0" fill="none" stroke="#aab6c4" stroke-width="1.0" />
<polyline points="531.0,325.0 531.0,334.0" fill="none" stroke="#7d8ca3" stroke-width="1.0" />
<polyline points="534.0,325.0 534.0,334.0" fill="none" stroke="#dfe6ea" stroke-width="1.0" />
<polyline points="537.0,325.0 537.0,334.0" fill="none" stroke="#dfe6ea" stroke-width="1.0" />
<polyline points="540.0,325.0 540.0,334.0" fill="none" stroke="#7d8ca3" stroke-width="1.0" />
<polyline points="543.0,325.0 543.0,334.0" fill="none" stroke="#7d8ca3" stroke-width="1.0" />
<polyline points="546.0,325.0 546.0,334.0" fill="none" stroke="#aab6c4" stroke-width="1.0" />
<polyline points="524.0,338.0 550.0,338.0" fill="none" stroke="#aab6c4" stroke-width="1.0" />
<polyline points="524.0,340.6 550.0,340.6" fill="none" stroke="#7d8ca3" stroke-width="1.0" />
<polyline points="524.0,343.2 550.0,343.2" fill="none" stroke="#7d8ca3" stroke-width="1.0" />
<rect x="553.0" y="143.0" width="10.0" height="7.0" fill="#4c5a74" stroke="#aab6c4" stroke-width="0.9"/>
<rect x="555.5" y="145.2" width="5.0" height="2.6" fill="#27334d" />
<rect x="553.0" y="153.0" width="10.0" height="20.0" fill="#4c5a74" stroke="#aab6c4" stroke-width="0.9"/>
<rect x="555.5" y="155.2" width="5.0" height="15.6" fill="#27334d" />
<rect x="553.0" y="176.0" width="10.0" height="12.0" fill="#7d8ca3" stroke="#dfe6ea" stroke-width="0.7"/>
<rect x="555.0" y="178.0" width="6.0" height="8.0" fill="#4c5a74" />
<polyline points="553.0,193.0 563.0,193.0" fill="none" stroke="#dfe6ea" stroke-width="1.0" />
<polyline points="553.0,195.6 563.0,195.6" fill="none" stroke="#aab6c4" stroke-width="1.0" />
<polyline points="553.0,198.2 563.0,198.2" fill="none" stroke="#7d8ca3" stroke-width="1.0" />
<polyline points="553.0,200.8 563.0,200.8" fill="none" stroke="#dfe6ea" stroke-width="1.0" />
<polyline points="553.0,203.4 563.0,203.4" fill="none" stroke="#7d8ca3" stroke-width="1.0" />
<polyline points="553.0,206.0 563.0,206.0" fill="none" stroke="#dfe6ea" stroke-width="1.0" />
<polyline points="554.0,210.0 554.0,217.0" fill="none" stroke="#dfe6ea" stroke-width="1.0" />
<polyline points="557.0,210.0 557.0,217.0" fill="none" stroke="#aab6c4" stroke-width="1.0" />
<polyline points="560.0,210.0 560.0,217.0" fill="none" stroke="#aab6c4" stroke-width="1.0" />
<polyline points="553.0,222.0 563.0,222.0" fill="none" stroke="#7d8ca3" stroke-width="1.0" />
<polyline points="553.0,224.6 563.0,224.6" fill="none" stroke="#7d8ca3" stroke-width="1.0" />
<rect x="553.0" y="231.0" width="10.0" height="20.0" fill="#4c5a74" stroke="#aab6c4" stroke-width="0.9"/>
<rect x="555.5" y="233.2" width="5.0" height="15.6" fill="#27334d" />
<rect x="553.0" y="253.0" width="10.0" height="16.0" fill="#4c5a74" stroke="#aab6c4" stroke-width="0.9"/>
<rect x="555.5" y="255.2" width="5.0" height="11.6" fill="#27334d" />
<rect x="553.0" y="272.0" width="10.0" height="12.0" fill="#4c5a74" stroke="#aab6c4" stroke-width="0.9"/>
<rect x="555.5" y="274.2" width="5.0" height="7.6" fill="#27334d" />
<polyline points="553.0,288.0 563.0,288.0" fill="none" stroke="#7d8ca3" stroke-width="1.0" />
<polyline points="553.0,290.6 563.0,290.6" fill="none" stroke="#dfe6ea" stroke-width="1.0" />
<polyline points="553.0,293.2 563.0,293.2" fill="none" stroke="#dfe6ea" stroke-width="1.0" />
<polyline points="553.0,295.8 563.0,295.8" fill="none" stroke="#aab6c4" stroke-width="1.0" />
<polyline points="553.0,298.4 563.0,298.4" fill="none" stroke="#dfe6ea" stroke-width="1.0" />
<polyline points="553.0,301.0 563.0,301.0" fill="none" stroke="#7d8ca3" stroke-width="1.0" />
<polyline points="553.0,303.6 563.0,303.6" fill="none" stroke="#dfe6ea" stroke-width="1.0" />
<polyline points="553.0,310.0 563.0,310.0" fill="none" stroke="#aab6c4" stroke-width="1.0" />
<polyline points="553.0,312.6 563.0,312.6" fill="none" stroke="#7d8ca3" stroke-width="1.0" />
<polyline points="553.0,315.2 563.0,315.2" fill="none" stroke="#aab6c4" stroke-width="1.0" />
<polyline points="553.0,317.8 563.0,317.8" fill="none" stroke="#7d8ca3" stroke-width="1.0" />
<polyline points="553.0,320.4 563.0,320.4" fill="none" stroke="#7d8ca3" stroke-width="1.0" />
<polyline points="553.0,323.0 563.0,323.0" fill="none" stroke="#aab6c4" stroke-width="1.0" />
<polyline points="553.0,325.6 563.0,325.6" fill="none" stroke="#7d8ca3" stroke-width="1.0" />
<polyline points="553.0,334.0 563.0,334.0" fill="none" stroke="#7d8ca3" stroke-width="1.0" />
<polyline points="553.0,336.6 563.0,336.6" fill="none" stroke="#7d8ca3" stroke-width="1.0" />
<polyline points="553.0,339.2 563.0,339.2" fill="none" stroke="#7d8ca3" stroke-width="1.0" />
<polyline points="553.0,341.8 563.0,341.8" fill="none" stroke="#7d8ca3" stroke-width="1.0" />
<polyline points="553.0,344.4 563.0,344.4" fill="none" stroke="#dfe6ea" stroke-width="1.0" />
<polyline points="553.0,347.0 563.0,347.0" fill="none" stroke="#7d8ca3" stroke-width="1.0" />
<polyline points="553.0,349.6 563.0,349.6" fill="none" stroke="#dfe6ea" stroke-width="1.0" />
<polyline points="567.0,144.0 585.0,144.0" fill="none" stroke="#7d8ca3" stroke-width="1.0" />
<polyline points="567.0,146.6 585.0,146.6" fill="none" stroke="#dfe6ea" stroke-width="1.0" />
<polyline points="567.0,149.2 585.0,149.2" fill="none" stroke="#7d8ca3" stroke-width="1.0" />
<polyline points="567.0,151.8 585.0,151.8" fill="none" stroke="#dfe6ea" stroke-width="1.0" />
<rect x="567.0" y="158.0" width="18.0" height="12.0" fill="#4c5a74" stroke="#aab6c4" stroke-width="0.9"/>
<rect x="569.5" y="160.2" width="13.0" height="7.6" fill="#27334d" />
<rect x="567.0" y="172.0" width="18.0" height="20.0" fill="#4c5a74" stroke="#aab6c4" stroke-width="0.9"/>
<rect x="569.5" y="174.2" width="13.0" height="15.6" fill="#27334d" />
<polyline points="568.0,194.0 568.0,210.0" fill="none" stroke="#7d8ca3" stroke-width="1.0" />
<polyline points="571.0,194.0 571.0,210.0" fill="none" stroke="#aab6c4" stroke-width="1.0" />
<polyline points="574.0,194.0 574.0,210.0" fill="none" stroke="#7d8ca3" stroke-width="1.0" />
<polyline points="577.0,194.0 577.0,210.0" fill="none" stroke="#dfe6ea" stroke-width="1.0" />
<polyline points="580.0,194.0 580.0,210.0" fill="none" stroke="#7d8ca3" stroke-width="1.0" />
<polyline points="583.0,194.0 583.0,210.0" fill="none" stroke="#aab6c4" stroke-width="1.0" />
<rect x="567.0" y="214.0" width="18.0" height="12.0" fill="#4c5a74" stroke="#aab6c4" stroke-width="0.9"/>
<rect x="569.5" y="216.2" width="13.0" height="7.6" fill="#27334d" />
<polyline points="567.0,229.0 585.0,229.0" fill="none" stroke="#7d8ca3" stroke-width="1.0" />
<polyline points="567.0,231.6 585.0,231.6" fill="none" stroke="#aab6c4" stroke-width="1.0" />
<polyline points="567.0,234.2 585.0,234.2" fill="none" stroke="#aab6c4" stroke-width="1.0" />
<polyline points="567.0,236.8 585.0,236.8" fill="none" stroke="#dfe6ea" stroke-width="1.0" />
<polyline points="567.0,239.4 585.0,239.4" fill="none" stroke="#aab6c4" stroke-width="1.0" />
<polyline points="567.0,242.0 585.0,242.0" fill="none" stroke="#dfe6ea" stroke-width="1.0" />
<polyline points="568.0,247.0 568.0,256.0" fill="none" stroke="#aab6c4" stroke-width="1.0" />
<polyline points="571.0,247.0 571.0,256.0" fill="none" stroke="#dfe6ea" stroke-width="1.0" />
<polyline points="574.0,247.0 574.0,256.0" fill="none" stroke="#dfe6ea" stroke-width="1.0" />
<polyline points="577.0,247.0 577.0,256.0" fill="none" stroke="#aab6c4" stroke-width="1.0" />
<polyline points="580.0,247.0 580.0,256.0" fill="none" stroke="#aab6c4" stroke-width="1.0" />
<polyline points="583.0,247.0 583.0,256.0" fill="none" stroke="#dfe6ea" stroke-width="1.0" />
<rect x="567.0" y="259.0" width="18.0" height="16.0" fill="#4c5a74" stroke="#aab6c4" stroke-width="0.9"/>
<rect x="569.5" y="261.2" width="13.0" height="11.6" fill="#27334d" />
<polyline points="567.0,278.0 585.0,278.0" fill="none" stroke="#aab6c4" stroke-width="1.0" />
<polyline points="567.0,280.6 585.0,280.6" fill="none" stroke="#7d8ca3" stroke-width="1.0" />
<polyline points="567.0,283.2 585.0,283.2" fill="none" stroke="#7d8ca3" stroke-width="1.0" />
<polyline points="567.0,285.8 585.0,285.8" fill="none" stroke="#aab6c4" stroke-width="1.0" />
<rect x="567.0" y="293.0" width="18.0" height="16.0" fill="#7d8ca3" stroke="#dfe6ea" stroke-width="0.7"/>
<rect x="569.0" y="295.0" width="14.0" height="12.0" fill="#4c5a74" />
<polyline points="567.0,313.0 585.0,313.0" fill="none" stroke="#7d8ca3" stroke-width="1.0" />
<polyline points="567.0,315.6 585.0,315.6" fill="none" stroke="#dfe6ea" stroke-width="1.0" />
<polyline points="567.0,318.2 585.0,318.2" fill="none" stroke="#dfe6ea" stroke-width="1.0" />
<polyline points="567.0,320.8 585.0,320.8" fill="none" stroke="#aab6c4" stroke-width="1.0" />
<polyline points="567.0,323.4 585.0,323.4" fill="none" stroke="#7d8ca3" stroke-width="1.0" />
<polyline points="567.0,326.0 585.0,326.0" fill="none" stroke="#dfe6ea" stroke-width="1.0" />
<polyline points="567.0,328.6 585.0,328.6" fill="none" stroke="#aab6c4" stroke-width="1.0" />
<rect x="567.0" y="334.0" width="18.0" height="16.0" fill="#4c5a74" stroke="#aab6c4" stroke-width="0.9"/>
<rect x="569.5" y="336.2" width="13.0" height="11.6" fill="#27334d" />
<polyline points="591.0,144.0 613.0,144.0" fill="none" stroke="#7d8ca3" stroke-width="1.0" />
<polyline points="591.0,146.6 613.0,146.6" fill="none" stroke="#7d8ca3" stroke-width="1.0" />
<polyline points="591.0,149.2 613.0,149.2" fill="none" stroke="#7d8ca3" stroke-width="1.0" />
<polyline points="591.0,151.8 613.0,151.8" fill="none" stroke="#dfe6ea" stroke-width="1.0" />
<polyline points="591.0,154.4 613.0,154.4" fill="none" stroke="#dfe6ea" stroke-width="1.0" />
<polyline points="591.0,157.0 613.0,157.0" fill="none" stroke="#dfe6ea" stroke-width="1.0" />
<polyline points="591.0,159.6 613.0,159.6" fill="none" stroke="#dfe6ea" stroke-width="1.0" />
<rect x="591.0" y="167.0" width="22.0" height="20.0" fill="#4c5a74" stroke="#aab6c4" stroke-width="0.9"/>
<rect x="593.5" y="169.2" width="17.0" height="15.6" fill="#27334d" />
<rect x="591.0" y="190.0" width="22.0" height="9.0" fill="#4c5a74" stroke="#aab6c4" stroke-width="0.9"/>
<rect x="593.5" y="192.2" width="17.0" height="4.6" fill="#27334d" />
<polyline points="592.0,201.0 592.0,221.0" fill="none" stroke="#aab6c4" stroke-width="1.0" />
<polyline points="595.0,201.0 595.0,221.0" fill="none" stroke="#dfe6ea" stroke-width="1.0" />
<polyline points="598.0,201.0 598.0,221.0" fill="none" stroke="#aab6c4" stroke-width="1.0" />
<polyline points="601.0,201.0 601.0,221.0" fill="none" stroke="#dfe6ea" stroke-width="1.0" />
<polyline points="604.0,201.0 604.0,221.0" fill="none" stroke="#aab6c4" stroke-width="1.0" />
<polyline points="607.0,201.0 607.0,221.0" fill="none" stroke="#aab6c4" stroke-width="1.0" />
<polyline points="610.0,201.0 610.0,221.0" fill="none" stroke="#7d8ca3" stroke-width="1.0" />
<rect x="591.0" y="224.0" width="22.0" height="16.0" fill="#4c5a74" stroke="#aab6c4" stroke-width="0.9"/>
<rect x="593.5" y="226.2" width="17.0" height="11.6" fill="#27334d" />
<rect x="591.0" y="242.0" width="22.0" height="7.0" fill="#4c5a74" stroke="#aab6c4" stroke-width="0.9"/>
<rect x="593.5" y="244.2" width="17.0" height="2.6" fill="#27334d" />
<polyline points="592.0,252.0 592.0,259.0" fill="none" stroke="#dfe6ea" stroke-width="1.0" />
<polyline points="595.0,252.0 595.0,259.0" fill="none" stroke="#aab6c4" stroke-width="1.0" />
<polyline points="598.0,252.0 598.0,259.0" fill="none" stroke="#dfe6ea" stroke-width="1.0" />
<polyline points="601.0,252.0 601.0,259.0" fill="none" stroke="#aab6c4" stroke-width="1.0" />
<polyline points="604.0,252.0 604.0,259.0" fill="none" stroke="#dfe6ea" stroke-width="1.0" />
<polyline points="607.0,252.0 607.0,259.0" fill="none" stroke="#7d8ca3" stroke-width="1.0" />
<polyline points="610.0,252.0 610.0,259.0" fill="none" stroke="#7d8ca3" stroke-width="1.0" />
<rect x="591.0" y="262.0" width="22.0" height="12.0" fill="#4c5a74" stroke="#aab6c4" stroke-width="0.9"/>
<rect x="593.5" y="264.2" width="17.0" height="7.6" fill="#27334d" />
<polyline points="591.0,278.0 613.0,278.0" fill="none" stroke="#aab6c4" stroke-width="1.0" />
<polyline points="591.0,280.6 613.0,280.6" fill="none" stroke="#aab6c4" stroke-width="1.0" />
<polyline points="591.0,283.2 613.0,283.2" fill="none" stroke="#7d8ca3" stroke-width="1.0" />
<polyline points="591.0,285.8 613.0,285.8" fill="none" stroke="#dfe6ea" stroke-width="1.0" />
<polyline points="591.0,288.4 613.0,288.4" fill="none" stroke="#aab6c4" stroke-width="1.0" />
<polyline points="591.0,291.0 613.0,291.0" fill="none" stroke="#7d8ca3" stroke-width="1.0" />
<rect x="591.0" y="296.0" width="22.0" height="12.0" fill="#7d8ca3" stroke="#dfe6ea" stroke-width="0.7"/>
<rect x="593.0" y="298.0" width="18.0" height="8.0" fill="#4c5a74" />
<rect x="591.0" y="310.0" width="22.0" height="12.0" fill="#4c5a74" stroke="#aab6c4" stroke-width="0.9"/>
<rect x="593.5" y="312.2" width="17.0" height="7.6" fill="#27334d" />
<rect x="591.0" y="326.0" width="22.0" height="12.0" fill="#4c5a74" stroke="#aab6c4" stroke-width="0.9"/>
<rect x="593.5" y="328.2" width="17.0" height="7.6" fill="#27334d" />
<rect x="591.0" y="342.0" width="22.0" height="9.0" fill="#7d8ca3" stroke="#dfe6ea" stroke-width="0.7"/>
<rect x="593.0" y="344.0" width="18.0" height="5.0" fill="#4c5a74" />
<rect x="617.0" y="143.0" width="22.0" height="20.0" fill="#4c5a74" stroke="#aab6c4" stroke-width="0.9"/>
<rect x="619.5" y="145.2" width="17.0" height="15.6" fill="#27334d" />
<polyline points="617.0,167.0 639.0,167.0" fill="none" stroke="#7d8ca3" stroke-width="1.0" />
<polyline points="617.0,169.6 639.0,169.6" fill="none" stroke="#dfe6ea" stroke-width="1.0" />
<polyline points="618.0,177.0 618.0,193.0" fill="none" stroke="#7d8ca3" stroke-width="1.0" />
<polyline points="621.0,177.0 621.0,193.0" fill="none" stroke="#7d8ca3" stroke-width="1.0" />
<polyline points="624.0,177.0 624.0,193.0" fill="none" stroke="#aab6c4" stroke-width="1.0" />
<polyline points="627.0,177.0 627.0,193.0" fill="none" stroke="#aab6c4" stroke-width="1.0" />
<polyline points="630.0,177.0 630.0,193.0" fill="none" stroke="#7d8ca3" stroke-width="1.0" />
<polyline points="633.0,177.0 633.0,193.0" fill="none" stroke="#aab6c4" stroke-width="1.0" />
<polyline points="636.0,177.0 636.0,193.0" fill="none" stroke="#dfe6ea" stroke-width="1.0" />
<polyline points="617.0,198.0 639.0,198.0" fill="none" stroke="#7d8ca3" stroke-width="1.0" />
<polyline points="617.0,200.6 639.0,200.6" fill="none" stroke="#dfe6ea" stroke-width="1.0" />
<rect x="617.0" y="208.0" width="22.0" height="12.0" fill="#4c5a74" stroke="#aab6c4" stroke-width="0.9"/>
<rect x="619.5" y="210.2" width="17.0" height="7.6" fill="#27334d" />
<rect x="617.0" y="222.0" width="22.0" height="9.0" fill="#7d8ca3" stroke="#dfe6ea" stroke-width="0.7"/>
<rect x="619.0" y="224.0" width="18.0" height="5.0" fill="#4c5a74" />
<rect x="617.0" y="235.0" width="22.0" height="12.0" fill="#7d8ca3" stroke="#dfe6ea" stroke-width="0.7"/>
<rect x="619.0" y="237.0" width="18.0" height="8.0" fill="#4c5a74" />
<polyline points="617.0,250.0 639.0,250.0" fill="none" stroke="#dfe6ea" stroke-width="1.0" />
<polyline points="617.0,252.6 639.0,252.6" fill="none" stroke="#dfe6ea" stroke-width="1.0" />
<polyline points="617.0,255.2 639.0,255.2" fill="none" stroke="#dfe6ea" stroke-width="1.0" />
<polyline points="617.0,257.8 639.0,257.8" fill="none" stroke="#7d8ca3" stroke-width="1.0" />
<polyline points="618.0,264.0 618.0,284.0" fill="none" stroke="#7d8ca3" stroke-width="1.0" />
<polyline points="621.0,264.0 621.0,284.0" fill="none" stroke="#7d8ca3" stroke-width="1.0" />
<polyline points="624.0,264.0 624.0,284.0" fill="none" stroke="#7d8ca3" stroke-width="1.0" />
<polyline points="627.0,264.0 627.0,284.0" fill="none" stroke="#aab6c4" stroke-width="1.0" />
<polyline points="630.0,264.0 630.0,284.0" fill="none" stroke="#7d8ca3" stroke-width="1.0" />
<polyline points="633.0,264.0 633.0,284.0" fill="none" stroke="#dfe6ea" stroke-width="1.0" />
<polyline points="636.0,264.0 636.0,284.0" fill="none" stroke="#dfe6ea" stroke-width="1.0" />
<rect x="617.0" y="286.0" width="22.0" height="7.0" fill="#7d8ca3" stroke="#dfe6ea" stroke-width="0.7"/>
<rect x="619.0" y="288.0" width="18.0" height="3.0" fill="#4c5a74" />
<rect x="617.0" y="296.0" width="22.0" height="7.0" fill="#7d8ca3" stroke="#dfe6ea" stroke-width="0.7"/>
<rect x="619.0" y="298.0" width="18.0" height="3.0" fill="#4c5a74" />
<rect x="617.0" y="306.0" width="22.0" height="20.0" fill="#7d8ca3" stroke="#dfe6ea" stroke-width="0.7"/>
<rect x="619.0" y="308.0" width="18.0" height="16.0" fill="#4c5a74" />
<rect x="617.0" y="328.0" width="22.0" height="20.0" fill="#7d8ca3" stroke="#dfe6ea" stroke-width="0.7"/>
<rect x="619.0" y="330.0" width="18.0" height="16.0" fill="#4c5a74" />
<rect x="642.0" y="143.0" width="14.0" height="20.0" fill="#4c5a74" stroke="#aab6c4" stroke-width="0.9"/>
<rect x="644.5" y="145.2" width="9.0" height="15.6" fill="#27334d" />
<rect x="642.0" y="167.0" width="14.0" height="20.0" fill="#4c5a74" stroke="#aab6c4" stroke-width="0.9"/>
<rect x="644.5" y="169.2" width="9.0" height="15.6" fill="#27334d" />
<polyline points="643.0,189.0 643.0,205.0" fill="none" stroke="#7d8ca3" stroke-width="1.0" />
<polyline points="646.0,189.0 646.0,205.0" fill="none" stroke="#aab6c4" stroke-width="1.0" />
<polyline points="649.0,189.0 649.0,205.0" fill="none" stroke="#aab6c4" stroke-width="1.0" />
<polyline points="652.0,189.0 652.0,205.0" fill="none" stroke="#dfe6ea" stroke-width="1.0" />
<rect x="642.0" y="207.0" width="14.0" height="20.0" fill="#4c5a74" stroke="#aab6c4" stroke-width="0.9"/>
<rect x="644.5" y="209.2" width="9.0" height="15.6" fill="#27334d" />
<polyline points="642.0,231.0 656.0,231.0" fill="none" stroke="#7d8ca3" stroke-width="1.0" />
<polyline points="642.0,233.6 656.0,233.6" fill="none" stroke="#aab6c4" stroke-width="1.0" />
<rect x="642.0" y="241.0" width="14.0" height="20.0" fill="#7d8ca3" stroke="#dfe6ea" stroke-width="0.7"/>
<rect x="644.0" y="243.0" width="10.0" height="16.0" fill="#4c5a74" />
<rect x="642.0" y="265.0" width="14.0" height="7.0" fill="#7d8ca3" stroke="#dfe6ea" stroke-width="0.7"/>
<rect x="644.0" y="267.0" width="10.0" height="3.0" fill="#4c5a74" />
<polyline points="643.0,275.0 643.0,282.0" fill="none" stroke="#aab6c4" stroke-width="1.0" />
<polyline points="646.0,275.0 646.0,282.0" fill="none" stroke="#aab6c4" stroke-width="1.0" />
<polyline points="649.0,275.0 649.0,282.0" fill="none" stroke="#dfe6ea" stroke-width="1.0" />
<polyline points="652.0,275.0 652.0,282.0" fill="none" stroke="#dfe6ea" stroke-width="1.0" />
<polyline points="642.0,285.0 656.0,285.0" fill="none" stroke="#dfe6ea" stroke-width="1.0" />
<polyline points="642.0,287.6 656.0,287.6" fill="none" stroke="#7d8ca3" stroke-width="1.0" />
<rect x="642.0" y="293.0" width="14.0" height="9.0" fill="#7d8ca3" stroke="#dfe6ea" stroke-width="0.7"/>
<rect x="644.0" y="295.0" width="10.0" height="5.0" fill="#4c5a74" />
<polyline points="643.0,306.0 643.0,318.0" fill="none" stroke="#7d8ca3" stroke-width="1.0" />
<polyline points="646.0,306.0 646.0,318.0" fill="none" stroke="#7d8ca3" stroke-width="1.0" />
<polyline points="649.0,306.0 649.0,318.0" fill="none" stroke="#7d8ca3" stroke-width="1.0" />
<polyline points="652.0,306.0 652.0,318.0" fill="none" stroke="#7d8ca3" stroke-width="1.0" />
<rect x="642.0" y="322.0" width="14.0" height="9.0" fill="#7d8ca3" stroke="#dfe6ea" stroke-width="0.7"/>
<rect x="644.0" y="324.0" width="10.0" height="5.0" fill="#4c5a74" />
<polyline points="642.0,336.0 656.0,336.0" fill="none" stroke="#aab6c4" stroke-width="1.0" />
<polyline points="642.0,338.6 656.0,338.6" fill="none" stroke="#7d8ca3" stroke-width="1.0" />
<polyline points="660.0,143.0 660.0,155.0" fill="none" stroke="#7d8ca3" stroke-width="1.0" />
<polyline points="663.0,143.0 663.0,155.0" fill="none" stroke="#aab6c4" stroke-width="1.0" />
<polyline points="666.0,143.0 666.0,155.0" fill="none" stroke="#7d8ca3" stroke-width="1.0" />
<polyline points="669.0,143.0 669.0,155.0" fill="none" stroke="#dfe6ea" stroke-width="1.0" />
<polyline points="672.0,143.0 672.0,155.0" fill="none" stroke="#dfe6ea" stroke-width="1.0" />
<polyline points="675.0,143.0 675.0,155.0" fill="none" stroke="#aab6c4" stroke-width="1.0" />
<polyline points="678.0,143.0 678.0,155.0" fill="none" stroke="#dfe6ea" stroke-width="1.0" />
<polyline points="660.0,158.0 660.0,165.0" fill="none" stroke="#7d8ca3" stroke-width="1.0" />
<polyline points="663.0,158.0 663.0,165.0" fill="none" stroke="#7d8ca3" stroke-width="1.0" />
<polyline points="666.0,158.0 666.0,165.0" fill="none" stroke="#aab6c4" stroke-width="1.0" />
<polyline points="669.0,158.0 669.0,165.0" fill="none" stroke="#aab6c4" stroke-width="1.0" />
<polyline points="672.0,158.0 672.0,165.0" fill="none" stroke="#dfe6ea" stroke-width="1.0" />
<polyline points="675.0,158.0 675.0,165.0" fill="none" stroke="#aab6c4" stroke-width="1.0" />
<polyline points="678.0,158.0 678.0,165.0" fill="none" stroke="#dfe6ea" stroke-width="1.0" />
<rect x="659.0" y="168.0" width="22.0" height="9.0" fill="#7d8ca3" stroke="#dfe6ea" stroke-width="0.7"/>
<rect x="661.0" y="170.0" width="18.0" height="5.0" fill="#4c5a74" />
<polyline points="659.0,181.0 681.0,181.0" fill="none" stroke="#7d8ca3" stroke-width="1.0" />
<polyline points="659.0,183.6 681.0,183.6" fill="none" stroke="#aab6c4" stroke-width="1.0" />
<polyline points="659.0,186.2 681.0,186.2" fill="none" stroke="#7d8ca3" stroke-width="1.0" />
<polyline points="659.0,188.8 681.0,188.8" fill="none" stroke="#7d8ca3" stroke-width="1.0" />
<polyline points="659.0,191.4 681.0,191.4" fill="none" stroke="#dfe6ea" stroke-width="1.0" />
<polyline points="659.0,194.0 681.0,194.0" fill="none" stroke="#aab6c4" stroke-width="1.0" />
<polyline points="660.0,199.0 660.0,208.0" fill="none" stroke="#aab6c4" stroke-width="1.0" />
<polyline points="663.0,199.0 663.0,208.0" fill="none" stroke="#aab6c4" stroke-width="1.0" />
<polyline points="666.0,199.0 666.0,208.0" fill="none" stroke="#7d8ca3" stroke-width="1.0" />
<polyline points="669.0,199.0 669.0,208.0" fill="none" stroke="#aab6c4" stroke-width="1.0" />
<polyline points="672.0,199.0 672.0,208.0" fill="none" stroke="#dfe6ea" stroke-width="1.0" />
<polyline points="675.0,199.0 675.0,208.0" fill="none" stroke="#7d8ca3" stroke-width="1.0" />
<polyline points="678.0,199.0 678.0,208.0" fill="none" stroke="#aab6c4" stroke-width="1.0" />
<rect x="659.0" y="211.0" width="22.0" height="7.0" fill="#4c5a74" stroke="#aab6c4" stroke-width="0.9"/>
<rect x="661.5" y="213.2" width="17.0" height="2.6" fill="#27334d" />
<polyline points="659.0,222.0 681.0,222.0" fill="none" stroke="#dfe6ea" stroke-width="1.0" />
<polyline points="659.0,224.6 681.0,224.6" fill="none" stroke="#dfe6ea" stroke-width="1.0" />
<polyline points="659.0,227.2 681.0,227.2" fill="none" stroke="#7d8ca3" stroke-width="1.0" />
<rect x="659.0" y="234.0" width="22.0" height="20.0" fill="#4c5a74" stroke="#aab6c4" stroke-width="0.9"/>
<rect x="661.5" y="236.2" width="17.0" height="15.6" fill="#27334d" />
<rect x="659.0" y="256.0" width="22.0" height="12.0" fill="#7d8ca3" stroke="#dfe6ea" stroke-width="0.7"/>
<rect x="661.0" y="258.0" width="18.0" height="8.0" fill="#4c5a74" />
<polyline points="660.0,271.0 660.0,291.0" fill="none" stroke="#dfe6ea" stroke-width="1.0" />
<polyline points="663.0,271.0 663.0,291.0" fill="none" stroke="#7d8ca3" stroke-width="1.0" />
<polyline points="666.0,271.0 666.0,291.0" fill="none" stroke="#7d8ca3" stroke-width="1.0" />
<polyline points="669.0,271.0 669.0,291.0" fill="none" stroke="#7d8ca3" stroke-width="1.0" />
<polyline points="672.0,271.0 672.0,291.0" fill="none" stroke="#7d8ca3" stroke-width="1.0" />
<polyline points="675.0,271.0 675.0,291.0" fill="none" stroke="#7d8ca3" stroke-width="1.0" />
<polyline points="678.0,271.0 678.0,291.0" fill="none" stroke="#dfe6ea" stroke-width="1.0" />
<rect x="659.0" y="295.0" width="22.0" height="7.0" fill="#7d8ca3" stroke="#dfe6ea" stroke-width="0.7"/>
<rect x="661.0" y="297.0" width="18.0" height="3.0" fill="#4c5a74" />
<rect x="659.0" y="304.0" width="22.0" height="16.0" fill="#4c5a74" stroke="#aab6c4" stroke-width="0.9"/>
<rect x="661.5" y="306.2" width="17.0" height="11.6" fill="#27334d" />
<polyline points="660.0,322.0 660.0,338.0" fill="none" stroke="#dfe6ea" stroke-width="1.0" />
<polyline points="663.0,322.0 663.0,338.0" fill="none" stroke="#7d8ca3" stroke-width="1.0" />
<polyline points="666.0,322.0 666.0,338.0" fill="none" stroke="#aab6c4" stroke-width="1.0" />
<polyline points="669.0,322.0 669.0,338.0" fill="none" stroke="#dfe6ea" stroke-width="1.0" />
<polyline points="672.0,322.0 672.0,338.0" fill="none" stroke="#aab6c4" stroke-width="1.0" />
<polyline points="675.0,322.0 675.0,338.0" fill="none" stroke="#aab6c4" stroke-width="1.0" />
<polyline points="678.0,322.0 678.0,338.0" fill="none" stroke="#7d8ca3" stroke-width="1.0" />
<polyline points="660.0,341.0 660.0,357.0" fill="none" stroke="#dfe6ea" stroke-width="1.0" />
<polyline points="663.0,341.0 663.0,357.0" fill="none" stroke="#7d8ca3" stroke-width="1.0" />
<polyline points="666.0,341.0 666.0,357.0" fill="none" stroke="#dfe6ea" stroke-width="1.0" />
<polyline points="669.0,341.0 669.0,357.0" fill="none" stroke="#aab6c4" stroke-width="1.0" />
<polyline points="672.0,341.0 672.0,357.0" fill="none" stroke="#7d8ca3" stroke-width="1.0" />
<polyline points="675.0,341.0 675.0,357.0" fill="none" stroke="#aab6c4" stroke-width="1.0" />
<polyline points="678.0,341.0 678.0,357.0" fill="none" stroke="#7d8ca3" stroke-width="1.0" />
<polyline points="685.0,143.0 685.0,155.0" fill="none" stroke="#dfe6ea" stroke-width="1.0" />
<polyline points="688.0,143.0 688.0,155.0" fill="none" stroke="#aab6c4" stroke-width="1.0" />
<polyline points="691.0,143.0 691.0,155.0" fill="none" stroke="#dfe6ea" stroke-width="1.0" />
<polyline points="694.0,143.0 694.0,155.0" fill="none" stroke="#dfe6ea" stroke-width="1.0" />
<polyline points="684.0,160.0 698.0,160.0" fill="none" stroke="#aab6c4" stroke-width="1.0" />
<polyline points="684.0,162.6 698.0,162.6" fill="none" stroke="#aab6c4" stroke-width="1.0" />
<polyline points="684.0,165.2 698.0,165.2" fill="none" stroke="#dfe6ea" stroke-width="1.0" />
<polyline points="684.0,167.8 698.0,167.8" fill="none" stroke="#aab6c4" stroke-width="1.0" />
<polyline points="685.0,173.0 685.0,182.0" fill="none" stroke="#aab6c4" stroke-width="1.0" />
<polyline points="688.0,173.0 688.0,182.0" fill="none" stroke="#aab6c4" stroke-width="1.0" />
<polyline points="691.0,173.0 691.0,182.0" fill="none" stroke="#aab6c4" stroke-width="1.0" />
<polyline points="694.0,173.0 694.0,182.0" fill="none" stroke="#7d8ca3" stroke-width="1.0" />
<polyline points="684.0,186.0 698.0,186.0" fill="none" stroke="#aab6c4" stroke-width="1.0" />
<polyline points="684.0,188.6 698.0,188.6" fill="none" stroke="#7d8ca3" stroke-width="1.0" />
<polyline points="684.0,191.2 698.0,191.2" fill="none" stroke="#dfe6ea" stroke-width="1.0" />
<polyline points="684.0,193.8 698.0,193.8" fill="none" stroke="#7d8ca3" stroke-width="1.0" />
<polyline points="684.0,196.4 698.0,196.4" fill="none" stroke="#aab6c4" stroke-width="1.0" />
<polyline points="684.0,199.0 698.0,199.0" fill="none" stroke="#dfe6ea" stroke-width="1.0" />
<polyline points="684.0,201.6 698.0,201.6" fill="none" stroke="#dfe6ea" stroke-width="1.0" />
<rect x="684.0" y="209.0" width="14.0" height="20.0" fill="#7d8ca3" stroke="#dfe6ea" stroke-width="0.7"/>
<rect x="686.0" y="211.0" width="10.0" height="16.0" fill="#4c5a74" />
<rect x="684.0" y="231.0" width="14.0" height="16.0" fill="#4c5a74" stroke="#aab6c4" stroke-width="0.9"/>
<rect x="686.5" y="233.2" width="9.0" height="11.6" fill="#27334d" />
<polyline points="685.0,251.0 685.0,258.0" fill="none" stroke="#7d8ca3" stroke-width="1.0" />
<polyline points="688.0,251.0 688.0,258.0" fill="none" stroke="#aab6c4" stroke-width="1.0" />
<polyline points="691.0,251.0 691.0,258.0" fill="none" stroke="#aab6c4" stroke-width="1.0" />
<polyline points="694.0,251.0 694.0,258.0" fill="none" stroke="#dfe6ea" stroke-width="1.0" />
<rect x="684.0" y="261.0" width="14.0" height="20.0" fill="#7d8ca3" stroke="#dfe6ea" stroke-width="0.7"/>
<rect x="686.0" y="263.0" width="10.0" height="16.0" fill="#4c5a74" />
<rect x="684.0" y="284.0" width="14.0" height="12.0" fill="#7d8ca3" stroke="#dfe6ea" stroke-width="0.7"/>
<rect x="686.0" y="286.0" width="10.0" height="8.0" fill="#4c5a74" />
<rect x="684.0" y="298.0" width="14.0" height="20.0" fill="#7d8ca3" stroke="#dfe6ea" stroke-width="0.7"/>
<rect x="686.0" y="300.0" width="10.0" height="16.0" fill="#4c5a74" />
<rect x="684.0" y="321.0" width="14.0" height="7.0" fill="#7d8ca3" stroke="#dfe6ea" stroke-width="0.7"/>
<rect x="686.0" y="323.0" width="10.0" height="3.0" fill="#4c5a74" />
<rect x="684.0" y="332.0" width="14.0" height="9.0" fill="#4c5a74" stroke="#aab6c4" stroke-width="0.9"/>
<rect x="686.5" y="334.2" width="9.0" height="4.6" fill="#27334d" />
<polyline points="684.0,345.0 698.0,345.0" fill="none" stroke="#aab6c4" stroke-width="1.0" />
<polyline points="684.0,347.6 698.0,347.6" fill="none" stroke="#dfe6ea" stroke-width="1.0" />
<polyline points="684.0,350.2 698.0,350.2" fill="none" stroke="#7d8ca3" stroke-width="1.0" />
<polyline points="684.0,352.8 698.0,352.8" fill="none" stroke="#aab6c4" stroke-width="1.0" />
<polyline points="684.0,355.4 698.0,355.4" fill="none" stroke="#7d8ca3" stroke-width="1.0" />
<polyline points="684.0,358.0 698.0,358.0" fill="none" stroke="#dfe6ea" stroke-width="1.0" />
<rect x="704.0" y="143.0" width="18.0" height="16.0" fill="#4c5a74" stroke="#aab6c4" stroke-width="0.9"/>
<rect x="706.5" y="145.2" width="13.0" height="11.6" fill="#27334d" />
<rect x="704.0" y="163.0" width="18.0" height="7.0" fill="#7d8ca3" stroke="#dfe6ea" stroke-width="0.7"/>
<rect x="706.0" y="165.0" width="14.0" height="3.0" fill="#4c5a74" />
<polyline points="705.0,172.0 705.0,181.0" fill="none" stroke="#aab6c4" stroke-width="1.0" />
<polyline points="708.0,172.0 708.0,181.0" fill="none" stroke="#7d8ca3" stroke-width="1.0" />
<polyline points="711.0,172.0 711.0,181.0" fill="none" stroke="#dfe6ea" stroke-width="1.0" />
<polyline points="714.0,172.0 714.0,181.0" fill="none" stroke="#7d8ca3" stroke-width="1.0" />
<polyline points="717.0,172.0 717.0,181.0" fill="none" stroke="#dfe6ea" stroke-width="1.0" />
<polyline points="720.0,172.0 720.0,181.0" fill="none" stroke="#dfe6ea" stroke-width="1.0" />
<polyline points="705.0,184.0 705.0,196.0" fill="none" stroke="#dfe6ea" stroke-width="1.0" />
<polyline points="708.0,184.0 708.0,196.0" fill="none" stroke="#dfe6ea" stroke-width="1.0" />
<polyline points="711.0,184.0 711.0,196.0" fill="none" stroke="#aab6c4" stroke-width="1.0" />
<polyline points="714.0,184.0 714.0,196.0" fill="none" stroke="#7d8ca3" stroke-width="1.0" />
<polyline points="717.0,184.0 717.0,196.0" fill="none" stroke="#aab6c4" stroke-width="1.0" />
<polyline points="720.0,184.0 720.0,196.0" fill="none" stroke="#aab6c4" stroke-width="1.0" />
<rect x="704.0" y="199.0" width="18.0" height="7.0" fill="#7d8ca3" stroke="#dfe6ea" stroke-width="0.7"/>
<rect x="706.0" y="201.0" width="14.0" height="3.0" fill="#4c5a74" />
<rect x="704.0" y="209.0" width="18.0" height="20.0" fill="#7d8ca3" stroke="#dfe6ea" stroke-width="0.7"/>
<rect x="706.0" y="211.0" width="14.0" height="16.0" fill="#4c5a74" />
<rect x="704.0" y="233.0" width="18.0" height="12.0" fill="#7d8ca3" stroke="#dfe6ea" stroke-width="0.7"/>
<rect x="706.0" y="235.0" width="14.0" height="8.0" fill="#4c5a74" />
<rect x="704.0" y="248.0" width="18.0" height="7.0" fill="#4c5a74" stroke="#aab6c4" stroke-width="0.9"/>
<rect x="706.5" y="250.2" width="13.0" height="2.6" fill="#27334d" />
<rect x="704.0" y="259.0" width="18.0" height="7.0" fill="#4c5a74" stroke="#aab6c4" stroke-width="0.9"/>
<rect x="706.5" y="261.2" width="13.0" height="2.6" fill="#27334d" />
<rect x="704.0" y="270.0" width="18.0" height="9.0" fill="#4c5a74" stroke="#aab6c4" stroke-width="0.9"/>
<rect x="706.5" y="272.2" width="13.0" height="4.6" fill="#27334d" />
<polyline points="705.0,282.0 705.0,289.0" fill="none" stroke="#dfe6ea" stroke-width="1.0" />
<polyline points="708.0,282.0 708.0,289.0" fill="none" stroke="#dfe6ea" stroke-width="1.0" />
<polyline points="711.0,282.0 711.0,289.0" fill="none" stroke="#aab6c4" stroke-width="1.0" />
<polyline points="714.0,282.0 714.0,289.0" fill="none" stroke="#aab6c4" stroke-width="1.0" />
<polyline points="717.0,282.0 717.0,289.0" fill="none" stroke="#aab6c4" stroke-width="1.0" />
<polyline points="720.0,282.0 720.0,289.0" fill="none" stroke="#aab6c4" stroke-width="1.0" />
<rect x="704.0" y="291.0" width="18.0" height="7.0" fill="#7d8ca3" stroke="#dfe6ea" stroke-width="0.7"/>
<rect x="706.0" y="293.0" width="14.0" height="3.0" fill="#4c5a74" />
<polyline points="705.0,300.0 705.0,312.0" fill="none" stroke="#7d8ca3" stroke-width="1.0" />
<polyline points="708.0,300.0 708.0,312.0" fill="none" stroke="#dfe6ea" stroke-width="1.0" />
<polyline points="711.0,300.0 711.0,312.0" fill="none" stroke="#aab6c4" stroke-width="1.0" />
<polyline points="714.0,300.0 714.0,312.0" fill="none" stroke="#dfe6ea" stroke-width="1.0" />
<polyline points="717.0,300.0 717.0,312.0" fill="none" stroke="#aab6c4" stroke-width="1.0" />
<polyline points="720.0,300.0 720.0,312.0" fill="none" stroke="#aab6c4" stroke-width="1.0" />
<rect x="704.0" y="316.0" width="18.0" height="16.0" fill="#7d8ca3" stroke="#dfe6ea" stroke-width="0.7"/>
<rect x="706.0" y="318.0" width="14.0" height="12.0" fill="#4c5a74" />
<rect x="704.0" y="335.0" width="18.0" height="20.0" fill="#4c5a74" stroke="#aab6c4" stroke-width="0.9"/>
<rect x="706.5" y="337.2" width="13.0" height="15.6" fill="#27334d" />
<polyline points="728.0,144.0 742.0,144.0" fill="none" stroke="#aab6c4" stroke-width="1.0" />
<polyline points="728.0,146.6 742.0,146.6" fill="none" stroke="#dfe6ea" stroke-width="1.0" />
<polyline points="728.0,149.2 742.0,149.2" fill="none" stroke="#dfe6ea" stroke-width="1.0" />
<polyline points="728.0,151.8 742.0,151.8" fill="none" stroke="#dfe6ea" stroke-width="1.0" />
<polyline points="728.0,154.4 742.0,154.4" fill="none" stroke="#aab6c4" stroke-width="1.0" />
<polyline points="728.0,157.0 742.0,157.0" fill="none" stroke="#7d8ca3" stroke-width="1.0" />
<polyline points="728.0,159.6 742.0,159.6" fill="none" stroke="#7d8ca3" stroke-width="1.0" />
<rect x="728.0" y="165.0" width="14.0" height="12.0" fill="#7d8ca3" stroke="#dfe6ea" stroke-width="0.7"/>
<rect x="730.0" y="167.0" width="10.0" height="8.0" fill="#4c5a74" />
<polyline points="728.0,181.0 742.0,181.0" fill="none" stroke="#aab6c4" stroke-width="1.0" />
<polyline points="728.0,183.6 742.0,183.6" fill="none" stroke="#dfe6ea" stroke-width="1.0" />
<polyline points="729.0,190.0 729.0,202.0" fill="none" stroke="#dfe6ea" stroke-width="1.0" />
<polyline points="732.0,190.0 732.0,202.0" fill="none" stroke="#dfe6ea" stroke-width="1.0" />
<polyline points="735.0,190.0 735.0,202.0" fill="none" stroke="#aab6c4" stroke-width="1.0" />
<polyline points="738.0,190.0 738.0,202.0" fill="none" stroke="#7d8ca3" stroke-width="1.0" />
<polyline points="728.0,207.0 742.0,207.0" fill="none" stroke="#7d8ca3" stroke-width="1.0" />
<polyline points="728.0,209.6 742.0,209.6" fill="none" stroke="#dfe6ea" stroke-width="1.0" />
<polyline points="728.0,212.2 742.0,212.2" fill="none" stroke="#dfe6ea" stroke-width="1.0" />
<polyline points="728.0,214.8 742.0,214.8" fill="none" stroke="#dfe6ea" stroke-width="1.0" />
<polyline points="728.0,221.0 742.0,221.0" fill="none" stroke="#dfe6ea" stroke-width="1.0" />
<polyline points="728.0,223.6 742.0,223.6" fill="none" stroke="#dfe6ea" stroke-width="1.0" />
<polyline points="728.0,226.2 742.0,226.2" fill="none" stroke="#dfe6ea" stroke-width="1.0" />
<polyline points="728.0,228.8 742.0,228.8" fill="none" stroke="#aab6c4" stroke-width="1.0" />
<polyline points="728.0,231.4 742.0,231.4" fill="none" stroke="#dfe6ea" stroke-width="1.0" />
<polyline points="728.0,234.0 742.0,234.0" fill="none" stroke="#aab6c4" stroke-width="1.0" />
<polyline points="728.0,236.6 742.0,236.6" fill="none" stroke="#dfe6ea" stroke-width="1.0" />
<polyline points="729.0,244.0 729.0,253.0" fill="none" stroke="#aab6c4" stroke-width="1.0" />
<polyline points="732.0,244.0 732.0,253.0" fill="none" stroke="#aab6c4" stroke-width="1.0" />
<polyline points="735.0,244.0 735.0,253.0" fill="none" stroke="#7d8ca3" stroke-width="1.0" />
<polyline points="738.0,244.0 738.0,253.0" fill="none" stroke="#dfe6ea" stroke-width="1.0" />
<rect x="728.0" y="256.0" width="14.0" height="12.0" fill="#7d8ca3" stroke="#dfe6ea" stroke-width="0.7"/>
<rect x="730.0" y="258.0" width="10.0" height="8.0" fill="#4c5a74" />
<rect x="728.0" y="271.0" width="14.0" height="12.0" fill="#7d8ca3" stroke="#dfe6ea" stroke-width="0.7"/>
<rect x="730.0" y="273.0" width="10.0" height="8.0" fill="#4c5a74" />
<polyline points="729.0,285.0 729.0,301.0" fill="none" stroke="#aab6c4" stroke-width="1.0" />
<polyline points="732.0,285.0 732.0,301.0" fill="none" stroke="#aab6c4" stroke-width="1.0" />
<polyline points="735.0,285.0 735.0,301.0" fill="none" stroke="#dfe6ea" stroke-width="1.0" />
<polyline points="738.0,285.0 738.0,301.0" fill="none" stroke="#dfe6ea" stroke-width="1.0" />
<rect x="728.0" y="305.0" width="14.0" height="20.0" fill="#4c5a74" stroke="#aab6c4" stroke-width="0.9"/>
<rect x="730.5" y="307.2" width="9.0" height="15.6" fill="#27334d" />
<polyline points="729.0,328.0 729.0,337.0" fill="none" stroke="#7d8ca3" stroke-width="1.0" />
<polyline points="732.0,328.0 732.0,337.0" fill="none" stroke="#dfe6ea" stroke-width="1.0" />
<polyline points="735.0,328.0 735.0,337.0" fill="none" stroke="#aab6c4" stroke-width="1.0" />
<polyline points="738.0,328.0 738.0,337.0" fill="none" stroke="#aab6c4" stroke-width="1.0" />
<polyline points="728.0,340.0 742.0,340.0" fill="none" stroke="#7d8ca3" stroke-width="1.0" />
<polyline points="728.0,342.6 742.0,342.6" fill="none" stroke="#aab6c4" stroke-width="1.0" />
<polyline points="728.0,345.2 742.0,345.2" fill="none" stroke="#dfe6ea" stroke-width="1.0" />
<polyline points="728.0,347.8 742.0,347.8" fill="none" stroke="#7d8ca3" stroke-width="1.0" />
<polyline points="746.0,144.0 760.0,144.0" fill="none" stroke="#aab6c4" stroke-width="1.0" />
<polyline points="746.0,146.6 760.0,146.6" fill="none" stroke="#7d8ca3" stroke-width="1.0" />
<polyline points="746.0,149.2 760.0,149.2" fill="none" stroke="#aab6c4" stroke-width="1.0" />
<polyline points="747.0,155.0 747.0,164.0" fill="none" stroke="#dfe6ea" stroke-width="1.0" />
<polyline points="750.0,155.0 750.0,164.0" fill="none" stroke="#aab6c4" stroke-width="1.0" />
<polyline points="753.0,155.0 753.0,164.0" fill="none" stroke="#7d8ca3" stroke-width="1.0" />
<polyline points="756.0,155.0 756.0,164.0" fill="none" stroke="#dfe6ea" stroke-width="1.0" />
<polyline points="746.0,169.0 760.0,169.0" fill="none" stroke="#dfe6ea" stroke-width="1.0" />
<polyline points="746.0,171.6 760.0,171.6" fill="none" stroke="#aab6c4" stroke-width="1.0" />
<polyline points="746.0,174.2 760.0,174.2" fill="none" stroke="#aab6c4" stroke-width="1.0" />
<polyline points="746.0,176.8 760.0,176.8" fill="none" stroke="#aab6c4" stroke-width="1.0" />
<polyline points="746.0,179.4 760.0,179.4" fill="none" stroke="#7d8ca3" stroke-width="1.0" />
<polyline points="746.0,182.0 760.0,182.0" fill="none" stroke="#7d8ca3" stroke-width="1.0" />
<polyline points="746.0,187.0 760.0,187.0" fill="none" stroke="#aab6c4" stroke-width="1.0" />
<polyline points="746.0,189.6 760.0,189.6" fill="none" stroke="#dfe6ea" stroke-width="1.0" />
<polyline points="746.0,192.2 760.0,192.2" fill="none" stroke="#7d8ca3" stroke-width="1.0" />
<polyline points="746.0,198.0 760.0,198.0" fill="none" stroke="#7d8ca3" stroke-width="1.0" />
<polyline points="746.0,200.6 760.0,200.6" fill="none" stroke="#aab6c4" stroke-width="1.0" />
<polyline points="746.0,203.2 760.0,203.2" fill="none" stroke="#dfe6ea" stroke-width="1.0" />
<polyline points="746.0,205.8 760.0,205.8" fill="none" stroke="#7d8ca3" stroke-width="1.0" />
<polyline points="746.0,212.0 760.0,212.0" fill="none" stroke="#aab6c4" stroke-width="1.0" />
<polyline points="746.0,214.6 760.0,214.6" fill="none" stroke="#7d8ca3" stroke-width="1.0" />
<rect x="746.0" y="221.0" width="14.0" height="20.0" fill="#4c5a74" stroke="#aab6c4" stroke-width="0.9"/>
<rect x="748.5" y="223.2" width="9.0" height="15.6" fill="#27334d" />
<polyline points="747.0,244.0 747.0,260.0" fill="none" stroke="#dfe6ea" stroke-width="1.0" />
<polyline points="750.0,244.0 750.0,260.0" fill="none" stroke="#dfe6ea" stroke-width="1.0" />
<polyline points="753.0,244.0 753.0,260.0" fill="none" stroke="#7d8ca3" stroke-width="1.0" />
<polyline points="756.0,244.0 756.0,260.0" fill="none" stroke="#7d8ca3" stroke-width="1.0" />
<polyline points="747.0,263.0 747.0,279.0" fill="none" stroke="#dfe6ea" stroke-width="1.0" />
<polyline points="750.0,263.0 750.0,279.0" fill="none" stroke="#7d8ca3" stroke-width="1.0" />
<polyline points="753.0,263.0 753.0,279.0" fill="none" stroke="#7d8ca3" stroke-width="1.0" />
<polyline points="756.0,263.0 756.0,279.0" fill="none" stroke="#aab6c4" stroke-width="1.0" />
<polyline points="747.0,283.0 747.0,290.0" fill="none" stroke="#dfe6ea" stroke-width="1.0" />
<polyline points="750.0,283.0 750.0,290.0" fill="none" stroke="#7d8ca3" stroke-width="1.0" />
<polyline points="753.0,283.0 753.0,290.0" fill="none" stroke="#dfe6ea" stroke-width="1.0" />
<polyline points="756.0,283.0 756.0,290.0" fill="none" stroke="#dfe6ea" stroke-width="1.0" />
<polyline points="747.0,293.0 747.0,309.0" fill="none" stroke="#7d8ca3" stroke-width="1.0" />
<polyline points="750.0,293.0 750.0,309.0" fill="none" stroke="#aab6c4" stroke-width="1.0" />
<polyline points="753.0,293.0 753.0,309.0" fill="none" stroke="#7d8ca3" stroke-width="1.0" />
<polyline points="756.0,293.0 756.0,309.0" fill="none" stroke="#dfe6ea" stroke-width="1.0" />
<polyline points="746.0,314.0 760.0,314.0" fill="none" stroke="#dfe6ea" stroke-width="1.0" />
<polyline points="746.0,316.6 760.0,316.6" fill="none" stroke="#7d8ca3" stroke-width="1.0" />
<polyline points="746.0,319.2 760.0,319.2" fill="none" stroke="#7d8ca3" stroke-width="1.0" />
<polyline points="746.0,321.8 760.0,321.8" fill="none" stroke="#dfe6ea" stroke-width="1.0" />
<polyline points="746.0,324.4 760.0,324.4" fill="none" stroke="#aab6c4" stroke-width="1.0" />
<polyline points="746.0,327.0 760.0,327.0" fill="none" stroke="#aab6c4" stroke-width="1.0" />
<rect x="746.0" y="331.0" width="14.0" height="16.0" fill="#4c5a74" stroke="#aab6c4" stroke-width="0.9"/>
<rect x="748.5" y="333.2" width="9.0" height="11.6" fill="#27334d" />
<path d="M728.4 235.6v5.9q0 4.4 -5.8 4.4h-13.6" stroke="#aab6c4" stroke-width="1.8" fill="none"/>
<path d="M731.0 235.6v3.9q0 4.4 -5.8 4.4h-13.6" stroke="#aab6c4" stroke-width="0.9" fill="none"/>
<path d="M589.9 192.5v9.8q0 7.4 -8.4 7.4h-19.6" stroke="#aab6c4" stroke-width="1.8" fill="none"/>
<path d="M592.5 192.5v7.8q0 7.4 -8.4 7.4h-19.6" stroke="#aab6c4" stroke-width="0.9" fill="none"/>
<path d="M596.1 294.9v7.4q0 5.5 -6.5 5.5h-15.2" stroke="#dfe6ea" stroke-width="1" fill="none"/>
<path d="M598.7 294.9v5.4q0 5.5 -6.5 5.5h-15.2" stroke="#dfe6ea" stroke-width="0.9" fill="none"/>
<path d="M518.7 292.6v8.6q0 6.5 -7.8 6.5h-18.1" stroke="#7d8ca3" stroke-width="1" fill="none"/>
<path d="M521.3 292.6v6.6q0 6.5 -7.8 6.5h-18.1" stroke="#7d8ca3" stroke-width="0.9" fill="none"/>
<path d="M566.1 281.1v4.5q0 3.4 -4.8 3.4h-11.1" stroke="#7d8ca3" stroke-width="1.8" fill="none"/>
<path d="M568.7 281.1v2.5q0 3.4 -4.8 3.4h-11.1" stroke="#7d8ca3" stroke-width="0.9" fill="none"/>
<path d="M590.3 214.2v4.2q0 3.2 -3.2 3.2h-7.6" stroke="#aab6c4" stroke-width="1.4" fill="none"/>
<path d="M592.9 214.2v2.2q0 3.2 -3.2 3.2h-7.6" stroke="#aab6c4" stroke-width="0.9" fill="none"/>
<path d="M572.8 175.8v5.6q0 4.2 7.7 4.2h18.1" stroke="#dfe6ea" stroke-width="1" fill="none"/>
<path d="M575.4 175.8v3.6q0 4.2 7.7 4.2h18.1" stroke="#dfe6ea" stroke-width="0.9" fill="none"/>
<path d="M570.8 304.7v9.1q0 6.8 3.1 6.8h7.2" stroke="#aab6c4" stroke-width="1.8" fill="none"/>
<path d="M573.4 304.7v7.1q0 6.8 3.1 6.8h7.2" stroke="#aab6c4" stroke-width="0.9" fill="none"/>
<path d="M646.8 184.5v6.4q0 4.8 -6.5 4.8h-15.2" stroke="#aab6c4" stroke-width="1.4" fill="none"/>
<path d="M649.4 184.5v4.4q0 4.8 -6.5 4.8h-15.2" stroke="#aab6c4" stroke-width="0.9" fill="none"/>
<path d="M703.7 278.4v11.7q0 8.7 -4.8 8.7h-11.2" stroke="#7d8ca3" stroke-width="1.4" fill="none"/>
<path d="M706.3 278.4v9.7q0 8.7 -4.8 8.7h-11.2" stroke="#7d8ca3" stroke-width="0.9" fill="none"/>
<path d="M514.0 190.2v9.5q0 7.1 3.7 7.1h8.5" stroke="#aab6c4" stroke-width="1" fill="none"/>
<path d="M516.6 190.2v7.5q0 7.1 3.7 7.1h8.5" stroke="#aab6c4" stroke-width="0.9" fill="none"/>
<path d="M667.8 240.3v7.0q0 5.2 7.3 5.2h17.0" stroke="#dfe6ea" stroke-width="1.8" fill="none"/>
<path d="M670.4 240.3v5.0q0 5.2 7.3 5.2h17.0" stroke="#dfe6ea" stroke-width="0.9" fill="none"/>
<path d="M618.8 325.9v6.2q0 4.7 -6.6 4.7h-15.4" stroke="#dfe6ea" stroke-width="1.4" fill="none"/>
<path d="M621.4 325.9v4.2q0 4.7 -6.6 4.7h-15.4" stroke="#dfe6ea" stroke-width="0.9" fill="none"/>
<path d="M730.9 229.3v4.4q0 3.3 -5.9 3.3h-13.7" stroke="#aab6c4" stroke-width="1.8" fill="none"/>
<path d="M733.5 229.3v2.4q0 3.3 -5.9 3.3h-13.7" stroke="#aab6c4" stroke-width="0.9" fill="none"/>
<path d="M555.2 294.6v11.9q0 8.9 -3.9 8.9h-9.1" stroke="#aab6c4" stroke-width="1" fill="none"/>
<path d="M557.8 294.6v9.9q0 8.9 -3.9 8.9h-9.1" stroke="#aab6c4" stroke-width="0.9" fill="none"/>
<path d="M538.0 282.2v11.2q0 8.4 -4.0 8.4h-9.3" stroke="#dfe6ea" stroke-width="1.8" fill="none"/>
<path d="M540.6 282.2v9.2q0 8.4 -4.0 8.4h-9.3" stroke="#dfe6ea" stroke-width="0.9" fill="none"/>
<path d="M605.8 285.1v11.1q0 8.3 3.0 8.3h7.0" stroke="#dfe6ea" stroke-width="1" fill="none"/>
<path d="M608.4 285.1v9.1q0 8.3 3.0 8.3h7.0" stroke="#dfe6ea" stroke-width="0.9" fill="none"/>
<path d="M510.4 289.8v7.9q0 5.9 4.7 5.9h11.0" stroke="#dfe6ea" stroke-width="1.8" fill="none"/>
<path d="M513.0 289.8v5.9q0 5.9 4.7 5.9h11.0" stroke="#dfe6ea" stroke-width="0.9" fill="none"/>
<path d="M564.9 298.9v10.2q0 7.6 -6.2 7.6h-14.5" stroke="#dfe6ea" stroke-width="1.8" fill="none"/>
<path d="M567.5 298.9v8.2q0 7.6 -6.2 7.6h-14.5" stroke="#dfe6ea" stroke-width="0.9" fill="none"/>
<path d="M599.5 270.3v10.3q0 7.7 7.2 7.7h16.9" stroke="#aab6c4" stroke-width="1.4" fill="none"/>
<path d="M602.1 270.3v8.3q0 7.7 7.2 7.7h16.9" stroke="#aab6c4" stroke-width="0.9" fill="none"/>
<path d="M612.4 189.8v5.6q0 4.2 4.4 4.2h10.3" stroke="#dfe6ea" stroke-width="1.8" fill="none"/>
<path d="M615.0 189.8v3.6q0 4.2 4.4 4.2h10.3" stroke="#dfe6ea" stroke-width="0.9" fill="none"/>
<path d="M602.6 308.5v4.1q0 3.1 3.8 3.1h8.9" stroke="#7d8ca3" stroke-width="1.4" fill="none"/>
<path d="M605.2 308.5v2.1q0 3.1 3.8 3.1h8.9" stroke="#7d8ca3" stroke-width="0.9" fill="none"/>
<path d="M615.9 280.2v11.3q0 8.4 -3.4 8.4h-7.9" stroke="#aab6c4" stroke-width="1.8" fill="none"/>
<path d="M618.5 280.2v9.3q0 8.4 -3.4 8.4h-7.9" stroke="#aab6c4" stroke-width="0.9" fill="none"/>
<path d="M530.1 206.0v10.6q0 7.9 -6.8 7.9h-15.8" stroke="#aab6c4" stroke-width="1.8" fill="none"/>
<path d="M532.7 206.0v8.6q0 7.9 -6.8 7.9h-15.8" stroke="#aab6c4" stroke-width="0.9" fill="none"/>
<path d="M614.6 267.0v6.0q0 4.5 -5.0 4.5h-11.8" stroke="#7d8ca3" stroke-width="1.8" fill="none"/>
<path d="M617.2 267.0v4.0q0 4.5 -5.0 4.5h-11.8" stroke="#7d8ca3" stroke-width="0.9" fill="none"/>
<path d="M653.2 257.3v7.3q0 5.5 3.3 5.5h7.8" stroke="#aab6c4" stroke-width="1.8" fill="none"/>
<path d="M655.8 257.3v5.3q0 5.5 3.3 5.5h7.8" stroke="#aab6c4" stroke-width="0.9" fill="none"/>
<path d="M540.1 276.2v10.0l-4.9 10.0h-4.9" stroke="#0b1428" stroke-width="3.6" fill="none"/>
<path d="M540.1 276.2v10.0l-4.9 10.0h-4.9" stroke="#aab6c4" stroke-width="1.7" fill="none"/>
<path d="M525.5 209.2v7.3l-4.0 7.3h-4.0" stroke="#0b1428" stroke-width="3.6" fill="none"/>
<path d="M525.5 209.2v7.3l-4.0 7.3h-4.0" stroke="#aab6c4" stroke-width="1.7" fill="none"/>
<path d="M514.7 222.3v4.6l7.0 4.6h7.0" stroke="#0b1428" stroke-width="3.6" fill="none"/>
<path d="M514.7 222.3v4.6l7.0 4.6h7.0" stroke="#aab6c4" stroke-width="1.7" fill="none"/>
<path d="M634.7 243.2v5.0l-6.1 5.0h-6.1" stroke="#0b1428" stroke-width="3.6" fill="none"/>
<path d="M634.7 243.2v5.0l-6.1 5.0h-6.1" stroke="#aab6c4" stroke-width="1.7" fill="none"/>
<path d="M581.3 161.2v6.7l-6.5 6.7h-6.5" stroke="#0b1428" stroke-width="3.6" fill="none"/>
<path d="M581.3 161.2v6.7l-6.5 6.7h-6.5" stroke="#aab6c4" stroke-width="1.7" fill="none"/>
<path d="M504.1 202.4v8.5l-9.2 8.5h-9.2" stroke="#0b1428" stroke-width="3.6" fill="none"/>
<path d="M504.1 202.4v8.5l-9.2 8.5h-9.2" stroke="#aab6c4" stroke-width="1.7" fill="none"/>
<path d="M590.4 201.1v10.3l-6.7 10.3h-6.7" stroke="#0b1428" stroke-width="3.6" fill="none"/>
<path d="M590.4 201.1v10.3l-6.7 10.3h-6.7" stroke="#aab6c4" stroke-width="1.7" fill="none"/>
<path d="M581.4 182.0v7.2l-7.4 7.2h-7.4" stroke="#0b1428" stroke-width="3.6" fill="none"/>
<path d="M581.4 182.0v7.2l-7.4 7.2h-7.4" stroke="#7d8ca3" stroke-width="1.7" fill="none"/>
<path d="M651.0 211.4v9.4l11.0 9.4h11.0" stroke="#0b1428" stroke-width="3.6" fill="none"/>
<path d="M651.0 211.4v9.4l11.0 9.4h11.0" stroke="#7d8ca3" stroke-width="1.7" fill="none"/>
<path d="M537.7 199.8v6.2l-4.3 6.2h-4.3" stroke="#0b1428" stroke-width="3.6" fill="none"/>
<path d="M537.7 199.8v6.2l-4.3 6.2h-4.3" stroke="#dfe6ea" stroke-width="1.7" fill="none"/>
<path d="M622.7 217.5v8.5l7.6 8.5h7.6" stroke="#0b1428" stroke-width="3.6" fill="none"/>
<path d="M622.7 217.5v8.5l7.6 8.5h7.6" stroke="#aab6c4" stroke-width="1.7" fill="none"/>
<path d="M550.8 196.9v10.2l-9.1 10.2h-9.1" stroke="#0b1428" stroke-width="3.6" fill="none"/>
<path d="M550.8 196.9v10.2l-9.1 10.2h-9.1" stroke="#aab6c4" stroke-width="1.7" fill="none"/>
<path d="M652.2 244.0v6.6l-4.1 6.6h-4.1" stroke="#0b1428" stroke-width="3.6" fill="none"/>
<path d="M652.2 244.0v6.6l-4.1 6.6h-4.1" stroke="#7d8ca3" stroke-width="1.7" fill="none"/>
<path d="M587.8 261.1v10.2l6.3 10.2h6.3" stroke="#0b1428" stroke-width="3.6" fill="none"/>
<path d="M587.8 261.1v10.2l6.3 10.2h6.3" stroke="#aab6c4" stroke-width="1.7" fill="none"/>
<path d="M557.7 229.0v5.2l4.3 5.2h4.3" stroke="#0b1428" stroke-width="3.6" fill="none"/>
<path d="M557.7 229.0v5.2l4.3 5.2h4.3" stroke="#aab6c4" stroke-width="1.7" fill="none"/>
<path d="M502.5 190.6v9.6l7.4 9.6h7.4" stroke="#0b1428" stroke-width="3.6" fill="none"/>
<path d="M502.5 190.6v9.6l7.4 9.6h7.4" stroke="#dfe6ea" stroke-width="1.7" fill="none"/>
<path d="M560.0 208.7v5.6l5.0 5.6h5.0" stroke="#0b1428" stroke-width="3.6" fill="none"/>
<path d="M560.0 208.7v5.6l5.0 5.6h5.0" stroke="#dfe6ea" stroke-width="1.7" fill="none"/>
<path d="M605.1 208.4v10.9l-6.7 10.9h-6.7" stroke="#0b1428" stroke-width="3.6" fill="none"/>
<path d="M605.1 208.4v10.9l-6.7 10.9h-6.7" stroke="#aab6c4" stroke-width="1.7" fill="none"/>
<path d="M516.9 198.2v10.8l-5.0 10.8h-5.0" stroke="#0b1428" stroke-width="3.6" fill="none"/>
<path d="M516.9 198.2v10.8l-5.0 10.8h-5.0" stroke="#7d8ca3" stroke-width="1.7" fill="none"/>
<path d="M611.5 255.1v4.5l8.6 4.5h8.6" stroke="#0b1428" stroke-width="3.6" fill="none"/>
<path d="M611.5 255.1v4.5l8.6 4.5h8.6" stroke="#aab6c4" stroke-width="1.7" fill="none"/>
<path d="M609.9 195.9v10.9l-10.7 10.9h-10.7" stroke="#0b1428" stroke-width="3.6" fill="none"/>
<path d="M609.9 195.9v10.9l-10.7 10.9h-10.7" stroke="#aab6c4" stroke-width="1.7" fill="none"/>
<path d="M655.8 183.7v7.9l4.8 7.9h4.8" stroke="#0b1428" stroke-width="3.6" fill="none"/>
<path d="M655.8 183.7v7.9l4.8 7.9h4.8" stroke="#7d8ca3" stroke-width="1.7" fill="none"/>
<path d="M574.2 192.7v5.8l8.9 5.8h8.9" stroke="#0b1428" stroke-width="3.6" fill="none"/>
<path d="M574.2 192.7v5.8l8.9 5.8h8.9" stroke="#7d8ca3" stroke-width="1.7" fill="none"/>
<path d="M537.2 249.9v5.9l8.7 5.9h8.7" stroke="#0b1428" stroke-width="3.6" fill="none"/>
<path d="M537.2 249.9v5.9l8.7 5.9h8.7" stroke="#aab6c4" stroke-width="1.7" fill="none"/>
<path d="M647.5 268.0v6.1l-7.3 6.1h-7.3" stroke="#0b1428" stroke-width="3.6" fill="none"/>
<path d="M647.5 268.0v6.1l-7.3 6.1h-7.3" stroke="#dfe6ea" stroke-width="1.7" fill="none"/>
<path d="M638.8 153.0v11.3l4.8 11.3h4.8" stroke="#0b1428" stroke-width="3.6" fill="none"/>
<path d="M638.8 153.0v11.3l4.8 11.3h4.8" stroke="#7d8ca3" stroke-width="1.7" fill="none"/>
<path d="M551.5 199.0v6.6l7.3 6.6h7.3" stroke="#0b1428" stroke-width="3.6" fill="none"/>
<path d="M551.5 199.0v6.6l7.3 6.6h7.3" stroke="#dfe6ea" stroke-width="1.7" fill="none"/>
<path d="M510.7 154.6v8.5l10.2 8.5h10.2" stroke="#0b1428" stroke-width="3.6" fill="none"/>
<path d="M510.7 154.6v8.5l10.2 8.5h10.2" stroke="#dfe6ea" stroke-width="1.7" fill="none"/>
<path d="M662.3 265.3v6.7l6.7 6.7h6.7" stroke="#0b1428" stroke-width="3.6" fill="none"/>
<path d="M662.3 265.3v6.7l6.7 6.7h6.7" stroke="#dfe6ea" stroke-width="1.7" fill="none"/>
<path d="M502.3 241.9v9.0l-9.4 9.0h-9.4" stroke="#0b1428" stroke-width="3.6" fill="none"/>
<path d="M502.3 241.9v9.0l-9.4 9.0h-9.4" stroke="#7d8ca3" stroke-width="1.7" fill="none"/>
<path d="M621.0 158.3v11.0l-9.8 11.0h-9.8" stroke="#0b1428" stroke-width="3.6" fill="none"/>
<path d="M621.0 158.3v11.0l-9.8 11.0h-9.8" stroke="#7d8ca3" stroke-width="1.7" fill="none"/>
<path d="M693.1 200.0v6.2l-8.8 6.2h-8.8" stroke="#0b1428" stroke-width="3.6" fill="none"/>
<path d="M693.1 200.0v6.2l-8.8 6.2h-8.8" stroke="#7d8ca3" stroke-width="1.7" fill="none"/>
<path d="M569.5 277.0v6.2l-8.2 6.2h-8.2" stroke="#0b1428" stroke-width="3.6" fill="none"/>
<path d="M569.5 277.0v6.2l-8.2 6.2h-8.2" stroke="#dfe6ea" stroke-width="1.7" fill="none"/>
<path d="M634.8 180.5v11.8l-10.5 11.8h-10.5" stroke="#0b1428" stroke-width="3.6" fill="none"/>
<path d="M634.8 180.5v11.8l-10.5 11.8h-10.5" stroke="#aab6c4" stroke-width="1.7" fill="none"/>
<rect x="480.0" y="139.5" width="280.0" height="2.1" fill="#f6faf9" />
<rect x="480.0" y="143.6" width="280.0" height="1.0" fill="#dfe6ea" />
<rect x="488.0" y="139.5" width="2.0" height="160.5" fill="#f6faf9" />
<rect x="492.5" y="141.0" width="1.1" height="155.0" fill="#dfe6ea" />
<rect x="480.0" y="146.5" width="232.0" height="3.5" fill="#4c5a74" />
<rect x="630.0" y="171.4" width="76.0" height="52.1" fill="#0b1428" stroke="#f6faf9" stroke-width="2"/>
<rect x="634.0" y="175.4" width="68.0" height="44.1" fill="#131d33" stroke="#dfe6ea" stroke-width="0.8"/>
<rect x="634.0" y="175.4" width="68.0" height="4.1" fill="#7d8ca3" />
<line x1="640.5" y1="184.0" x2="664.4" y2="184.0" stroke="#e8eef0" stroke-width="1.1" stroke-dasharray="4.0 1.8 2.9 1.6"/>
<line x1="641.7" y1="187.4" x2="672.0" y2="187.4" stroke="#e8eef0" stroke-width="1.1" stroke-dasharray="3.0 1.5 3.7 1.3"/>
<line x1="641.4" y1="190.8" x2="668.6" y2="190.8" stroke="#e8eef0" stroke-width="1.1" stroke-dasharray="4.1 2.4 3.5 1.2"/>
<line x1="641.2" y1="194.2" x2="665.1" y2="194.2" stroke="#e8eef0" stroke-width="1.1" stroke-dasharray="3.7 1.6 1.9 1.7"/>
<line x1="641.1" y1="197.6" x2="660.9" y2="197.6" stroke="#e8eef0" stroke-width="1.1" stroke-dasharray="2.7 1.5 1.5 1.5"/>
<line x1="640.3" y1="201.0" x2="657.3" y2="201.0" stroke="#e8eef0" stroke-width="1.1" stroke-dasharray="2.2 1.2 3.1 1.1"/>
<line x1="640.9" y1="204.4" x2="669.3" y2="204.4" stroke="#e8eef0" stroke-width="1.1" stroke-dasharray="3.4 1.2 3.6 1.9"/>
<line x1="640.1" y1="207.8" x2="660.2" y2="207.8" stroke="#e8eef0" stroke-width="1.1" stroke-dasharray="3.5 2.2 2.2 1.7"/>
<line x1="640.5" y1="211.2" x2="668.0" y2="211.2" stroke="#e8eef0" stroke-width="1.1" stroke-dasharray="3.0 1.5 3.3 1.8"/>
<line x1="641.7" y1="214.6" x2="666.7" y2="214.6" stroke="#e8eef0" stroke-width="1.1" stroke-dasharray="3.3 2.1 2.9 1.8"/>
<rect x="674.0" y="180.0" width="1.4" height="39.5" fill="#f6faf9" />
<line x1="679.6" y1="185.0" x2="690.1" y2="185.0" stroke="#aab6c4" stroke-width="1" stroke-dasharray="3.1 2.0 1.7 1.2"/>
<line x1="678.0" y1="189.2" x2="694.6" y2="189.2" stroke="#aab6c4" stroke-width="1" stroke-dasharray="4.8 2.5 1.4 1.7"/>
<line x1="678.8" y1="193.4" x2="696.0" y2="193.4" stroke="#aab6c4" stroke-width="1" stroke-dasharray="3.2 2.4 4.0 1.0"/>
<line x1="679.4" y1="197.6" x2="689.8" y2="197.6" stroke="#aab6c4" stroke-width="1" stroke-dasharray="2.1 1.4 3.2 2.0"/>
<line x1="678.2" y1="201.8" x2="691.4" y2="201.8" stroke="#aab6c4" stroke-width="1" stroke-dasharray="2.1 1.8 2.4 1.4"/>
<line x1="678.6" y1="206.0" x2="698.0" y2="206.0" stroke="#aab6c4" stroke-width="1" stroke-dasharray="4.5 1.4 2.2 1.6"/>
<line x1="679.5" y1="210.2" x2="700.0" y2="210.2" stroke="#aab6c4" stroke-width="1" stroke-dasharray="3.2 2.0 2.6 1.8"/>
<line x1="678.3" y1="214.4" x2="689.4" y2="214.4" stroke="#aab6c4" stroke-width="1" stroke-dasharray="2.3 2.4 1.8 1.5"/>
<linearGradient id="gScr" x1="0" y1="0" x2="0" y2="1"><stop offset="0" stop-color="#ffffff"/><stop offset="0.6" stop-color="#e2e8ec"/><stop offset="1" stop-color="#9aa6b6"/></linearGradient>
<rect x="605.0" y="229.5" width="38.0" height="20.5" fill="#4c5a74" stroke="#dfe6ea" stroke-width="1"/>
<rect x="607.0" y="231.5" width="34.0" height="15.5" fill="url(#gScr)" />
<rect x="696.5" y="250.0" width="20.5" height="26.0" fill="#7d8ca3" stroke="#dfe6ea" stroke-width="1.2"/>
<rect x="699.0" y="253.0" width="15.5" height="19.5" fill="#8c9bb4" />
<rect x="706.0" y="259.0" width="1.2" height="5.0" fill="#f6faf9" />
<rect x="714.0" y="175.0" width="30.5" height="87.0" fill="#4c5a74" stroke="#dfe6ea" stroke-width="1.4"/>
<rect x="717.0" y="179.0" width="25.0" height="15.0" fill="#7d8ca3" stroke="#dfe6ea" stroke-width="0.8"/>
<rect x="720.0" y="182.0" width="10.0" height="9.0" fill="#27334d" />
<rect x="733.0" y="183.0" width="6.0" height="7.0" fill="#27334d" />
<rect x="720.0" y="197.0" width="20.0" height="21.0" fill="#7d8ca3" stroke="#0b1428" stroke-width="1"/>
<rect x="724.0" y="201.0" width="13.0" height="7.0" fill="#dfe6ea" />
<rect x="724.0" y="210.0" width="13.0" height="5.0" fill="#4c5a74" />
<rect x="717.0" y="221.0" width="25.0" height="41.0" fill="#27334d" />
<polyline points="719.0,224.0 722.0,232.0 719.0,240.0 722.0,250.0" fill="none" stroke="#aab6c4" stroke-width="0.9" />
<polyline points="723.6,224.0 726.6,232.0 723.6,240.0 726.6,250.0" fill="none" stroke="#aab6c4" stroke-width="0.9" />
<polyline points="728.2,224.0 731.2,232.0 728.2,240.0 731.2,250.0" fill="none" stroke="#aab6c4" stroke-width="0.9" />
<polyline points="732.8,224.0 735.8,232.0 732.8,240.0 735.8,250.0" fill="none" stroke="#aab6c4" stroke-width="0.9" />
<polyline points="737.4,224.0 740.4,232.0 737.4,240.0 740.4,250.0" fill="none" stroke="#aab6c4" stroke-width="0.9" />
</g></g>
<rect x="585.0" y="375.0" width="87.0" height="8.4" fill="#7d8ca3" />
<rect x="585.0" y="377.0" width="87.0" height="1.0" fill="#dfe6ea" />
<rect x="585.0" y="380.6" width="87.0" height="0.8" fill="#dfe6ea" />
<polygon points="473.0,304.0 480.0,300.5 500.0,310.0 521.0,302.5 523.5,304.5 500.0,313.5 478.0,308.5" fill="#f6faf9" stroke="#0b1428" stroke-width="0.6" />
<polyline points="500.0,312.0 574.0,312.0" fill="none" stroke="#f6faf9" stroke-width="2.0" />
<polygon points="668.0,309.0 675.5,303.5 682.0,309.0 680.0,318.5 671.0,318.5" fill="#0b1428" stroke="#f6faf9" stroke-width="1.6" />
<polyline points="678.0,305.0 687.5,295.5" fill="none" stroke="#f6faf9" stroke-width="1.8" />
<text x="672.6" y="315.6" font-size="6.5" font-weight="bold" fill="#f6faf9">c</text>
<rect x="150.0" y="200.5" width="87.5" height="43.5" fill="#0b1428" />
<polyline points="151.0,200.5 151.0,243.0 236.0,243.0 236.0,200.5" fill="none" stroke="#f6faf9" stroke-width="2.2" />
<line x1="156" y1="203.8" x2="188" y2="203.8" stroke="#b9c3ce" stroke-width="2" stroke-dasharray="3.6 1.6 4.7 2.4 5.4 1.8 1.2 1"/>
<line x1="156" y1="208.2" x2="219" y2="208.2" stroke="#b9c3ce" stroke-width="2" stroke-dasharray="3.6 1.6 3.9 2.4 5.4 1.8 1.2 1"/>
<line x1="227" y1="208.2" x2="233" y2="208.2" stroke="#aab4c0" stroke-width="2"/>
<line x1="156" y1="212.5" x2="196" y2="212.5" stroke="#b9c3ce" stroke-width="2" stroke-dasharray="3.3 1.6 2.6 2.4 6.8 1.8 1.2 1"/>
<line x1="156" y1="216.9" x2="219" y2="216.9" stroke="#b9c3ce" stroke-width="2" stroke-dasharray="3.2 1.6 2.2 2.4 8.5 1.8 1.2 1"/>
<line x1="156" y1="221.2" x2="205" y2="221.2" stroke="#b9c3ce" stroke-width="2" stroke-dasharray="5.7 1.6 2.0 2.4 5.7 1.8 1.2 1"/>
<line x1="156" y1="225.6" x2="196" y2="225.6" stroke="#b9c3ce" stroke-width="2" stroke-dasharray="7.0 1.6 2.6 2.4 8.3 1.8 1.2 1"/>
<line x1="227" y1="225.6" x2="233" y2="225.6" stroke="#aab4c0" stroke-width="2"/>
<line x1="156" y1="229.9" x2="212" y2="229.9" stroke="#b9c3ce" stroke-width="2" stroke-dasharray="3.1 1.6 3.1 2.4 6.8 1.8 1.2 1"/>
<line x1="227" y1="229.9" x2="233" y2="229.9" stroke="#aab4c0" stroke-width="2"/>
<line x1="156" y1="234.2" x2="219" y2="234.2" stroke="#b9c3ce" stroke-width="2" stroke-dasharray="3.2 1.6 3.7 2.4 7.3 1.8 1.2 1"/>
<line x1="156" y1="238.6" x2="219" y2="238.6" stroke="#b9c3ce" stroke-width="2" stroke-dasharray="4.0 1.6 2.6 2.4 5.5 1.8 1.2 1"/>
</g>
<g id="labels">
<rect x="30.00" y="98.80" width="421.00" height="11.20" fill="#f6faf9" />
<text x="33.5" y="107.3" font-size="8.6" font-weight="bold" fill="#0b1428" textLength="414.0" lengthAdjust="spacingAndGlyphs" xml:space="preserve">gitalsh la sitvo,lastottatcutora.cacts150opars1</text>
<rect x="170.00" y="114.80" width="345.00" height="11.20" fill="#f6faf9" />
<text x="173.5" y="123.3" font-size="8.6" font-weight="bold" fill="#0b1428" textLength="338.0" lengthAdjust="spacingAndGlyphs" xml:space="preserve">gitlalt umalor) :toaspesltopoa:r1</text>
<rect x="203.00" y="131.00" width="191.50" height="11.50" fill="#f6faf9" />
<text x="206.5" y="139.7" font-size="8.9" font-weight="bold" fill="#0b1428" textLength="184.5" lengthAdjust="spacingAndGlyphs" xml:space="preserve">grtit ottel l: ls:: st )]</text>
<rect x="131.00" y="183.00" width="129.00" height="14.50" fill="#f6faf9" />
<text x="134.5" y="194.0" font-size="11.2" font-weight="bold" fill="#0b1428" textLength="122.0" lengthAdjust="spacingAndGlyphs" xml:space="preserve">git-a; a a 3</text>
<rect x="273.00" y="158.00" width="105.00" height="14.00" fill="#f6faf9" />
<text x="276.5" y="168.6" font-size="10.8" font-weight="bold" fill="#0b1428" textLength="98.0" lengthAdjust="spacingAndGlyphs" xml:space="preserve">alogaatat)1</text>
<rect x="298.00" y="175.50" width="175.00" height="12.50" fill="#f6faf9" />
<text x="301.5" y="185.0" font-size="9.6" font-weight="bold" fill="#0b1428" textLength="168.0" lengthAdjust="spacingAndGlyphs" xml:space="preserve">quest: caat: staa )1</text>
<rect x="308.00" y="195.00" width="113.50" height="12.00" fill="#f6faf9" />
<text x="311.5" y="204.1" font-size="9.2" font-weight="bold" fill="#0b1428" textLength="106.5" lengthAdjust="spacingAndGlyphs" xml:space="preserve">taaalalla)1</text>
<rect x="336.00" y="215.00" width="234.00" height="12.00" fill="#f6faf9" />
<text x="339.5" y="224.1" font-size="9.2" font-weight="bold" fill="#0b1428" textLength="227.0" lengthAdjust="spacingAndGlyphs" xml:space="preserve">oulaub: ·ıata anp·gaaaaba))</text>
<rect x="297.00" y="234.50" width="96.00" height="13.00" fill="#f6faf9" />
<text x="300.5" y="244.4" font-size="10.0" font-weight="bold" fill="#0b1428" textLength="89.0" lengthAdjust="spacingAndGlyphs" xml:space="preserve">ggaastalcs</text>
<rect x="341.00" y="255.00" width="93.00" height="13.00" fill="#f6faf9" />
<text x="344.5" y="264.9" font-size="10.0" font-weight="bold" fill="#0b1428" textLength="86.0" lengthAdjust="spacingAndGlyphs" xml:space="preserve">gumet:a)1</text>
<rect x="373.00" y="274.00" width="166.00" height="12.00" fill="#f6faf9" />
<text x="376.5" y="283.1" font-size="9.2" font-weight="bold" fill="#0b1428" textLength="159.0" lengthAdjust="spacingAndGlyphs" xml:space="preserve">Dt lti abat ba aara)</text>
<rect x="398.00" y="290.00" width="56.00" height="12.50" fill="#f6faf9" />
<text x="401.5" y="299.5" font-size="9.6" font-weight="bold" fill="#0b1428" textLength="49.0" lengthAdjust="spacingAndGlyphs" xml:space="preserve">atalia</text>
<rect x="433.00" y="307.00" width="35.00" height="11.00" fill="#f6faf9" />
<text x="436.5" y="315.4" font-size="8.5" font-weight="bold" fill="#0b1428" textLength="28.0" lengthAdjust="spacingAndGlyphs" xml:space="preserve">G)1</text>
<rect x="423.00" y="325.00" width="185.00" height="11.00" fill="#f6faf9" />
<text x="426.5" y="333.4" font-size="8.5" font-weight="bold" fill="#0b1428" textLength="178.0" lengthAdjust="spacingAndGlyphs" xml:space="preserve">sap:: ut tit tina: l)1</text>
<rect x="443.00" y="361.00" width="60.00" height="13.00" fill="#f6faf9" />
<text x="446.5" y="370.9" font-size="10.0" font-weight="bold" fill="#0b1428" textLength="53.0" lengthAdjust="spacingAndGlyphs" xml:space="preserve">gaahla</text>
<rect x="468.00" y="381.00" width="90.00" height="13.50" fill="#f6faf9" />
<text x="471.5" y="391.3" font-size="10.4" font-weight="bold" fill="#0b1428" textLength="83.0" lengthAdjust="spacingAndGlyphs" xml:space="preserve">ahat: va)1</text>
<rect x="468.00" y="401.00" width="96.00" height="11.50" fill="#f6faf9" />
<text x="471.5" y="409.7" font-size="8.9" font-weight="bold" fill="#0b1428" textLength="89.0" lengthAdjust="spacingAndGlyphs" xml:space="preserve">gbbast-u)1</text>
<rect x="390.00" y="374.50" width="29.00" height="11.50" fill="#f6faf9" />
<text x="393.5" y="383.2" font-size="8.9" font-weight="bold" fill="#0b1428" textLength="22.0" lengthAdjust="spacingAndGlyphs" xml:space="preserve">G.9</text>
<rect x="701.50" y="357.00" width="20.00" height="10.50" fill="#f6faf9" />
<text x="705.0" y="365.0" font-size="8.1" font-weight="bold" fill="#0b1428" textLength="13.0" lengthAdjust="spacingAndGlyphs" xml:space="preserve">Dl</text>
<rect x="726.50" y="372.00" width="18.50" height="9.00" fill="#f6faf9" />
<text x="730.0" y="378.8" font-size="6.9" font-weight="bold" fill="#0b1428" textLength="11.5" lengthAdjust="spacingAndGlyphs" xml:space="preserve">m</text>
<rect x="277.00" y="275.00" width="23.00" height="11.00" fill="#f6faf9" />
<text x="288.5" y="283.6" font-size="8.6" font-weight="bold" text-anchor="middle" fill="#0b1428" font-family="Liberation Sans, sans-serif" textLength="18.0" lengthAdjust="spacingAndGlyphs">SI-I</text>
<rect x="299.50" y="287.50" width="17.50" height="10.50" fill="#f6faf9" />
<text x="308.2" y="295.6" font-size="8.6" font-weight="bold" text-anchor="middle" fill="#0b1428" font-family="Liberation Sans, sans-serif" textLength="12.5" lengthAdjust="spacingAndGlyphs">CP</text>
<rect x="321.00" y="301.00" width="17.00" height="11.50" fill="#f6faf9" />
<text x="329.5" y="310.1" font-size="8.6" font-weight="bold" text-anchor="middle" fill="#0b1428" font-family="Liberation Sans, sans-serif" textLength="12.0" lengthAdjust="spacingAndGlyphs">8B</text>
<rect x="353.00" y="317.50" width="19.00" height="11.50" fill="#f6faf9" />
<text x="362.5" y="326.6" font-size="8.6" font-weight="bold" text-anchor="middle" fill="#0b1428" font-family="Liberation Sans, sans-serif" textLength="14.0" lengthAdjust="spacingAndGlyphs">CP</text>
<rect x="64.00" y="160.00" width="95.50" height="15.00" fill="#f6faf9" />
<text x="69.0" y="171.4" font-size="11.6" font-weight="bold" fill="#0b1428" textLength="85.5" lengthAdjust="spacingAndGlyphs" xml:space="preserve">getalalat1</text>
<rect x="570.00" y="114.00" width="49.50" height="11.50" fill="#d9e2e0" />
<text x="573.5" y="122.7" font-size="8.9" font-weight="bold" fill="#0b1428" textLength="42.5" lengthAdjust="spacingAndGlyphs" xml:space="preserve">baet -</text>
<rect x="622.00" y="114.00" width="124.50" height="11.50" fill="#d9e2e0" />
<text x="625.5" y="122.7" font-size="8.9" font-weight="bold" fill="#0b1428" textLength="117.5" lengthAdjust="spacingAndGlyphs" xml:space="preserve">G ah; I-IG Om  ch</text>
<rect x="564.60" y="354.60" width="79.40" height="2.40" fill="#f6faf9" />
<rect x="564.60" y="356.00" width="106.40" height="18.60" fill="#f6faf9" />
<text x="570" y="367.2" font-size="8.4" font-weight="bold" fill="#0b1428" textLength="94" lengthAdjust="spacing" xml:space="preserve">cccc.o....</text>
<rect x="564.60" y="376.00" width="19.40" height="11.00" fill="#f6faf9" />
<text x="568.1" y="384.4" font-size="8.5" font-weight="bold" fill="#0b1428" textLength="12.4" lengthAdjust="spacingAndGlyphs" xml:space="preserve">al</text>
<rect x="450.00" y="231.50" width="184.00" height="12.50" fill="#f6faf9" />
<rect x="450.00" y="243.00" width="195.00" height="12.50" fill="#f6faf9" />
<rect x="455.00" y="237.50" width="34.00" height="13.50" fill="#0b1428" />
<text x="494" y="242.2" font-size="8.4" font-weight="bold" fill="#0b1428" textLength="136" lengthAdjust="spacingAndGlyphs" xml:space="preserve">atact at | ct lm</text>
<text x="494" y="252.8" font-size="8.4" font-weight="bold" fill="#0b1428" textLength="147" lengthAdjust="spacingAndGlyphs" xml:space="preserve">atact at | cbitl1</text>
</g>
<rect x="64.00" y="154.50" width="95.50" height="5.50" fill="#0b1428" />
<rect x="65.00" y="155.50" width="4.00" height="4.00" fill="#dfe8e6" />
<text x="72" y="159.6" font-size="5.5" font-weight="bold" fill="#dfe8e6" textLength="34" lengthAdjust="spacingAndGlyphs" xml:space="preserve">#0#0 #3</text>
<g id="lines">
<polyline points="64.0,152.0 158.0,152.0" fill="none" stroke="#f6faf9" stroke-width="2.4" stroke-linejoin="miter" />
<polyline points="155.1,147.5 160.0,152.0 155.1,156.5" fill="none" stroke="#f6faf9" stroke-width="2.4" stroke-linejoin="miter" />
<polyline points="171.5,115.0 171.5,207.5" fill="none" stroke="#f6faf9" stroke-width="3" stroke-linejoin="miter" />
<polyline points="181.0,160.0 181.0,172.0" fill="none" stroke="#f6faf9" stroke-width="2.2" stroke-linejoin="miter" />
<polyline points="175.0,167.4 181.0,174.0 187.0,167.4" fill="none" stroke="#f6faf9" stroke-width="2.4" stroke-linejoin="miter" />
<polyline points="204.3,131.0 204.3,209.0" fill="none" stroke="#f6faf9" stroke-width="3" stroke-linejoin="miter" />
<polyline points="224.5,159.0 224.5,231.0" fill="none" stroke="#f6faf9" stroke-width="3.4" stroke-linejoin="miter" />
<polyline points="243.0,237.5 243.0,152.3 417.0,152.3 417.0,172.5" fill="none" stroke="#f6faf9" stroke-width="3" stroke-linejoin="miter" />
<polyline points="250.0,228.0 260.0,228.0 260.0,167.5" fill="none" stroke="#f6faf9" stroke-width="3.2" stroke-linejoin="miter" />
<polyline points="269.0,182.5 269.0,229.0" fill="none" stroke="#f6faf9" stroke-width="3.2" stroke-linejoin="miter" />
<polyline points="274.6,158.0 274.6,363.8 366.6,363.8 366.6,389.0" fill="none" stroke="#f6faf9" stroke-width="3" stroke-linejoin="miter" />
<polyline points="394.0,141.6 486.0,141.6" fill="none" stroke="#f6faf9" stroke-width="2.2" stroke-linejoin="miter" />
<polyline points="424.0,153.0 464.0,153.0" fill="none" stroke="#f6faf9" stroke-width="2.4" stroke-linejoin="miter" />
<polyline points="472.0,147.5 482.5,152.6 472.0,157.5" fill="none" stroke="#f6faf9" stroke-width="2.6" stroke-linejoin="miter" />
<polyline points="386.5,165.5 400.0,165.5" fill="none" stroke="#f6faf9" stroke-width="2.2" stroke-linejoin="miter" />
<polyline points="397.0,162.3 400.5,165.5 397.0,168.7" fill="none" stroke="#f6faf9" stroke-width="2" stroke-linejoin="miter" />
<polygon points="401.5,160.2 411.5,165.5 401.5,170.8" fill="#0b1428" stroke="#f6faf9" stroke-width="2" />
<polyline points="279.5,183.3 292.0,183.3" fill="none" stroke="#f6faf9" stroke-width="2.6" stroke-linejoin="miter" />
<polyline points="428.0,204.5 462.0,204.5" fill="none" stroke="#f6faf9" stroke-width="2.2" stroke-linejoin="miter" />
<polygon points="461.5,204.5 468.3,198.5 475.1,204.5 468.3,210.5" fill="#0b1428" stroke="#f6faf9" stroke-width="2.2" />
<text x="465.4" y="207.4" font-size="7" font-weight="bold" fill="#f6faf9">c</text>
<polygon points="487.0,199.0 494.0,198.6 501.5,204.6 494.0,210.6 487.0,210.0" fill="#0b1428" stroke="#f6faf9" stroke-width="2.2" />
<text x="489.4" y="207.6" font-size="7.5" font-weight="bold" fill="#f6faf9">b</text>
<polyline points="475.0,204.5 482.0,204.5" fill="none" stroke="#f6faf9" stroke-width="1.6" stroke-linejoin="miter" />
<polyline points="400.0,242.0 444.0,242.0" fill="none" stroke="#f6faf9" stroke-width="2.2" stroke-linejoin="miter" />
<polygon points="411.0,242.0 418.0,236.4 425.0,242.0 418.0,247.6" fill="#0b1428" stroke="#f6faf9" stroke-width="2.2" />
<polyline points="424.0,237.0 430.0,242.0 424.0,247.0" fill="none" stroke="#f6faf9" stroke-width="2" stroke-linejoin="miter" />
<polyline points="593.0,114.0 593.0,100.2 535.5,100.2 535.5,133.0 520.7,141.5 510.3,133.0" fill="none" stroke="#f6faf9" stroke-width="2.5" stroke-linejoin="miter" />
<polyline points="520.7,124.0 520.7,140.0" fill="none" stroke="#f6faf9" stroke-width="2.5" stroke-linejoin="miter" />
<polygon points="578.0,127.5 593.0,127.5 593.0,134.0 585.5,139.2 578.0,134.0" fill="#e6eeec" />
<text x="585.5" y="135.2" font-size="7.5" font-weight="bold" text-anchor="middle" fill="#0b1428">T</text>
<polygon points="606.5,127.5 624.0,127.5 624.0,134.0 615.2,139.2 606.5,134.0" fill="#e6eeec" />
<text x="615.2" y="135.2" font-size="7.5" font-weight="bold" text-anchor="middle" fill="#0b1428">o</text>
<polygon points="635.0,127.5 653.0,127.5 653.0,134.0 644.0,139.2 635.0,134.0" fill="#e6eeec" />
<text x="644.0" y="135.2" font-size="7.5" font-weight="bold" text-anchor="middle" fill="#0b1428">I</text>
<polygon points="664.0,127.5 683.0,127.5 683.0,134.0 673.5,139.2 664.0,134.0" fill="#e6eeec" />
<text x="673.5" y="135.2" font-size="7.5" font-weight="bold" text-anchor="middle" fill="#0b1428">≡</text>
<polygon points="694.0,127.5 711.5,127.5 711.5,134.0 702.8,139.2 694.0,134.0" fill="#e6eeec" />
<text x="702.8" y="135.2" font-size="7.5" font-weight="bold" text-anchor="middle" fill="#0b1428">T</text>
<polygon points="723.0,127.5 740.0,127.5 740.0,134.0 731.5,139.2 723.0,134.0" fill="#e6eeec" />
<text x="731.5" y="135.2" font-size="7.5" font-weight="bold" text-anchor="middle" fill="#0b1428">≡</text>
<polyline points="585.5,139.0 585.5,148.0 616.0,148.0" fill="none" stroke="#f6faf9" stroke-width="2.4" stroke-linejoin="miter" />
<polyline points="622.0,139.0 622.0,160.6 608.0,160.6" fill="none" stroke="#f6faf9" stroke-width="2.8" stroke-linejoin="miter" />
<polygon points="585.0,161.0 597.5,161.0 588.0,168.4 585.0,168.4" fill="#0b1428" stroke="#f6faf9" stroke-width="2" />
<polyline points="597.0,161.4 607.0,161.4" fill="none" stroke="#f6faf9" stroke-width="2.4" stroke-linejoin="miter" />
<polyline points="602.5,156.6 609.5,160.8 603.0,166.0" fill="none" stroke="#f6faf9" stroke-width="2.2" stroke-linejoin="miter" />
<polyline points="643.5,139.0 643.5,175.0 727.0,175.0 727.0,250.0" fill="none" stroke="#f6faf9" stroke-width="3" stroke-linejoin="miter" />
<polyline points="663.8,139.0 663.8,148.0 702.0,148.0" fill="none" stroke="#f6faf9" stroke-width="2.4" stroke-linejoin="miter" />
<polyline points="709.5,148.0 726.0,148.0 726.0,139.0" fill="none" stroke="#f6faf9" stroke-width="2.4" stroke-linejoin="miter" />
<polyline points="701.8,144.0 701.8,159.0" fill="none" stroke="#f6faf9" stroke-width="2.6" stroke-linejoin="miter" />
<rect x="698.00" y="159.50" width="12.00" height="10.50" fill="#f6faf9" />
<rect x="701.00" y="162.40" width="5.00" height="4.80" fill="#0b1428" />
<polyline points="695.5,159.5 687.0,164.7 695.5,170.0" fill="none" stroke="#f6faf9" stroke-width="2.2" stroke-linejoin="miter" />
<polyline points="710.0,164.6 757.0,164.6" fill="none" stroke="#f6faf9" stroke-width="2.2" stroke-linejoin="miter" />
<polyline points="297.0,247.0 393.0,247.0" fill="none" stroke="#f6faf9" stroke-width="2.4" stroke-linejoin="miter" />
<polyline points="298.8,234.5 298.8,352.6 312.0,352.6" fill="none" stroke="#f6faf9" stroke-width="3" stroke-linejoin="miter" />
<polyline points="336.0,259.3 319.0,259.3 319.0,352.6 393.0,352.6" fill="none" stroke="#f6faf9" stroke-width="3" stroke-linejoin="miter" />
<polyline points="341.2,254.0 341.2,341.4 377.0,341.4" fill="none" stroke="#f6faf9" stroke-width="3" stroke-linejoin="miter" />
<polyline points="369.5,280.8 351.3,280.8 351.3,327.5" fill="none" stroke="#f6faf9" stroke-width="3" stroke-linejoin="miter" />
<polyline points="375.0,296.0 375.0,342.5" fill="none" stroke="#f6faf9" stroke-width="3.4" stroke-linejoin="miter" />
<polyline points="384.0,296.2 391.5,296.2" fill="none" stroke="#f6faf9" stroke-width="2.2" stroke-linejoin="miter" />
<polyline points="409.0,312.6 430.0,312.6" fill="none" stroke="#f6faf9" stroke-width="2" stroke-linejoin="miter" />
<polyline points="422.3,309.2 426.0,312.6 422.3,316.0" fill="none" stroke="#f6faf9" stroke-width="2" stroke-linejoin="miter" />
<polygon points="425.0,312.6 433.5,307.0 433.5,318.0" fill="#f6faf9" />
<polyline points="399.6,311.0 399.6,323.2 618.0,323.2" fill="none" stroke="#f6faf9" stroke-width="2.8" stroke-linejoin="miter" />
<polyline points="441.5,347.0 648.6,347.0 648.6,252.0" fill="none" stroke="#f6faf9" stroke-width="3" stroke-linejoin="miter" />
<polygon points="442.3,340.0 444.9,340.0 445.8,348.5 441.4,348.5" fill="#f6faf9" />
<polygon points="467.7,340.0 470.3,340.0 471.2,348.5 466.8,348.5" fill="#f6faf9" />
<polygon points="505.7,340.0 508.3,340.0 509.2,348.5 504.8,348.5" fill="#f6faf9" />
<polygon points="532.7,340.0 535.3,340.0 536.2,348.5 531.8,348.5" fill="#f6faf9" />
<polygon points="566.2,340.0 568.8,340.0 569.7,348.5 565.3,348.5" fill="#f6faf9" />
<polygon points="600.2,340.0 602.8,340.0 603.7,348.5 599.3,348.5" fill="#f6faf9" />
<polyline points="384.0,352.6 391.6,352.6 391.6,372.5" fill="none" stroke="#f6faf9" stroke-width="3" stroke-linejoin="miter" />
<polyline points="399.0,351.2 417.6,351.2 417.6,372.5" fill="none" stroke="#f6faf9" stroke-width="3" stroke-linejoin="miter" />
<polyline points="417.6,385.0 417.6,408.6 435.0,408.6" fill="none" stroke="#f6faf9" stroke-width="3" stroke-linejoin="miter" />
<polyline points="400.5,390.0 400.5,421.2 736.0,421.2 736.0,381.0" fill="none" stroke="#f6faf9" stroke-width="2.8" stroke-linejoin="miter" />
<polyline points="460.0,387.6 444.5,387.6 444.5,408.6 460.0,408.6" fill="none" stroke="#f6faf9" stroke-width="3" stroke-linejoin="miter" />
<polyline points="468.0,380.0 564.0,380.0" fill="none" stroke="#f6faf9" stroke-width="2" stroke-linejoin="miter" />
<polyline points="569.0,408.6 711.6,408.6 711.6,367.5" fill="none" stroke="#f6faf9" stroke-width="3" stroke-linejoin="miter" />
<polyline points="583.0,392.4 675.0,392.4 675.0,314.0" fill="none" stroke="#f6faf9" stroke-width="3" stroke-linejoin="miter" />
<polyline points="591.5,374.0 591.5,391.0" fill="none" stroke="#f6faf9" stroke-width="1.6" stroke-linejoin="miter" />
<polyline points="597.5,374.0 597.5,391.0" fill="none" stroke="#f6faf9" stroke-width="1.6" stroke-linejoin="miter" />
<polyline points="604.5,374.0 604.5,391.0" fill="none" stroke="#f6faf9" stroke-width="3.4" stroke-linejoin="miter" />
<polyline points="614.5,374.0 614.5,391.0" fill="none" stroke="#f6faf9" stroke-width="3.2" stroke-linejoin="miter" />
<polyline points="511.5,367.3 556.5,367.3" fill="none" stroke="#f6faf9" stroke-width="2.2" stroke-linejoin="miter" />
<polygon points="522.6,367.3 531.0,361.3 539.4,367.3 531.0,373.3" fill="#0b1428" stroke="#f6faf9" stroke-width="2.2" />
<text x="528.4" y="370" font-size="7" font-weight="bold" fill="#f6faf9">o</text>
<polyline points="537.0,371.6 545.0,365.2" fill="none" stroke="#f6faf9" stroke-width="2" stroke-linejoin="miter" />
<polyline points="324.5,396.2 356.0,396.2" fill="none" stroke="#f6faf9" stroke-width="2.2" stroke-linejoin="miter" />
<polyline points="340.0,392.6 344.0,396.2 340.0,399.8" fill="none" stroke="#f6faf9" stroke-width="2" stroke-linejoin="miter" />
<polygon points="356.0,391.0 368.0,391.0 373.0,396.2 368.0,401.4 356.0,401.4" fill="#0b1428" stroke="#f6faf9" stroke-width="2" />
<rect x="359.50" y="394.50" width="5.50" height="3.50" fill="#f6faf9" />
<polyline points="372.5,390.4 379.5,396.2 372.5,402.0" fill="none" stroke="#f6faf9" stroke-width="2" stroke-linejoin="miter" />
<polyline points="215.0,248.0 215.0,273.0" fill="none" stroke="#f6faf9" stroke-width="2.6" stroke-linejoin="miter" />
<polyline points="209.5,251.7 215.0,245.6 220.5,251.7" fill="none" stroke="#f6faf9" stroke-width="2.4" stroke-linejoin="miter" />
</g>
</svg>
</body></html>
